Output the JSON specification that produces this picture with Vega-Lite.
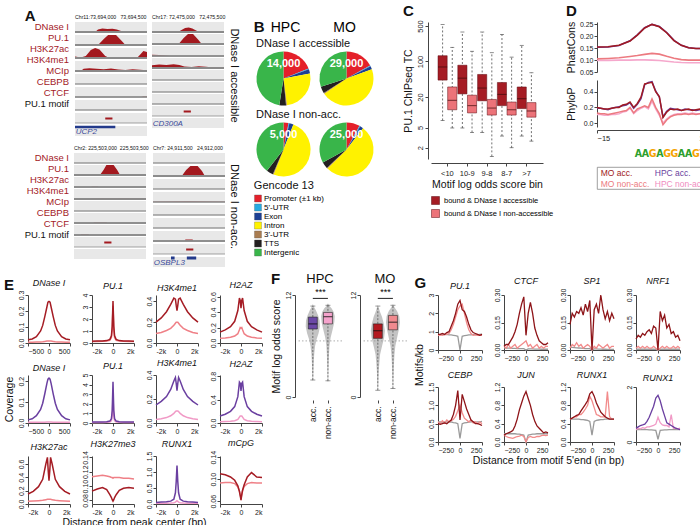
{
"$schema": "https://vega.github.io/schema/vega-lite/v6.json",
"background": "white",
"padding": {"left": 4, "right": 2, "top": 3, "bottom": 2},
"config": {
 "font": "Liberation Sans",
 "view": {"stroke": null},
 "axis": {"grid": false, "labelFontSize": 7, "titleFontSize": 9.5, "titleFontWeight": "normal", "tickSize": 3, "labelPadding": 1, "titlePadding": 3, "domainColor": "#444", "tickColor": "#444", "labelColor": "#222", "titleColor": "#111"},
 "axisY": {"labelAngle": -90, "labelAlign": "center", "labelBaseline": "bottom"},
 "title": {"fontWeight": "normal", "fontSize": 9, "offset": 2, "color": "#111"}
},
"datasets": {
 "aAcc": [
  {"l":"Chr11","t":"DNase I","k":"lab"},{"l":"Chr11","t":"PU.1","k":"lab"},{"l":"Chr11","t":"H3K27ac","k":"lab"},{"l":"Chr11","t":"H3K4me1","k":"lab"},{"l":"Chr11","t":"MCIp","k":"lab"},{"l":"Chr11","t":"CEBPB","k":"lab"},{"l":"Chr11","t":"CTCF","k":"lab"},{"l":"Chr11","t":"PU.1 motif","k":"lab"},{"l":"Chr11","t":"gene","k":"lab"},
  {"l":"Chr11","t":"DNase I","k":"s","x":0,"y":0},{"l":"Chr11","t":"DNase I","k":"s","x":28,"y":0},{"l":"Chr11","t":"DNase I","k":"s","x":32,"y":0.25},{"l":"Chr11","t":"DNase I","k":"s","x":38,"y":0.35},{"l":"Chr11","t":"DNase I","k":"s","x":45,"y":0.3},{"l":"Chr11","t":"DNase I","k":"s","x":52,"y":0.33},{"l":"Chr11","t":"DNase I","k":"s","x":58,"y":0.25},{"l":"Chr11","t":"DNase I","k":"s","x":65,"y":0.08},{"l":"Chr11","t":"DNase I","k":"s","x":70,"y":0},{"l":"Chr11","t":"DNase I","k":"s","x":100,"y":0},
  {"l":"Chr11","t":"PU.1","k":"s","x":0,"y":0},{"l":"Chr11","t":"PU.1","k":"s","x":32,"y":0},{"l":"Chr11","t":"PU.1","k":"s","x":40,"y":0.6},{"l":"Chr11","t":"PU.1","k":"s","x":46,"y":1},{"l":"Chr11","t":"PU.1","k":"s","x":57,"y":1},{"l":"Chr11","t":"PU.1","k":"s","x":65,"y":0.4},{"l":"Chr11","t":"PU.1","k":"s","x":70,"y":0},{"l":"Chr11","t":"PU.1","k":"s","x":100,"y":0},
  {"l":"Chr11","t":"H3K27ac","k":"s","x":0,"y":0.15},{"l":"Chr11","t":"H3K27ac","k":"s","x":8,"y":0.05},{"l":"Chr11","t":"H3K27ac","k":"s","x":15,"y":0.2},{"l":"Chr11","t":"H3K27ac","k":"s","x":22,"y":0.8},{"l":"Chr11","t":"H3K27ac","k":"s","x":28,"y":1},{"l":"Chr11","t":"H3K27ac","k":"s","x":34,"y":0.85},{"l":"Chr11","t":"H3K27ac","k":"s","x":42,"y":0.2},{"l":"Chr11","t":"H3K27ac","k":"s","x":48,"y":0},{"l":"Chr11","t":"H3K27ac","k":"s","x":86,"y":0},{"l":"Chr11","t":"H3K27ac","k":"s","x":90,"y":0.3},{"l":"Chr11","t":"H3K27ac","k":"s","x":95,"y":0.7},{"l":"Chr11","t":"H3K27ac","k":"s","x":100,"y":0.6},
  {"l":"Chr11","t":"H3K4me1","k":"s","x":0,"y":0},{"l":"Chr11","t":"H3K4me1","k":"s","x":8,"y":0},{"l":"Chr11","t":"H3K4me1","k":"s","x":12,"y":0.22},{"l":"Chr11","t":"H3K4me1","k":"s","x":20,"y":0.28},{"l":"Chr11","t":"H3K4me1","k":"s","x":30,"y":0.22},{"l":"Chr11","t":"H3K4me1","k":"s","x":40,"y":0.18},{"l":"Chr11","t":"H3K4me1","k":"s","x":50,"y":0.24},{"l":"Chr11","t":"H3K4me1","k":"s","x":60,"y":0.15},{"l":"Chr11","t":"H3K4me1","k":"s","x":70,"y":0.1},{"l":"Chr11","t":"H3K4me1","k":"s","x":80,"y":0.18},{"l":"Chr11","t":"H3K4me1","k":"s","x":90,"y":0.12},{"l":"Chr11","t":"H3K4me1","k":"s","x":100,"y":0.08},
  {"l":"Chr11","t":"MCIp","k":"s","x":0,"y":0},{"l":"Chr11","t":"MCIp","k":"s","x":100,"y":0},
  {"l":"Chr11","t":"CEBPB","k":"s","x":0,"y":0},{"l":"Chr11","t":"CEBPB","k":"s","x":92,"y":0},{"l":"Chr11","t":"CEBPB","k":"s","x":95,"y":0.06},{"l":"Chr11","t":"CEBPB","k":"s","x":100,"y":0.06},
  {"l":"Chr11","t":"CTCF","k":"s","x":0,"y":0},{"l":"Chr11","t":"CTCF","k":"s","x":100,"y":0},
  {"l":"Chr11","t":"PU.1 motif","k":"m","x":42,"x2":52},
  {"l":"Chr11","t":"gene","k":"g","x":0,"x2":56},{"l":"Chr11","t":"gene","k":"t","x":1,"n":"UCP2"},
  {"l":"Chr17","t":"DNase I","k":"s","x":0,"y":0},{"l":"Chr17","t":"DNase I","k":"s","x":36,"y":0},{"l":"Chr17","t":"DNase I","k":"s","x":41,"y":0.2},{"l":"Chr17","t":"DNase I","k":"s","x":46,"y":0.4},{"l":"Chr17","t":"DNase I","k":"s","x":51,"y":0.45},{"l":"Chr17","t":"DNase I","k":"s","x":56,"y":0.35},{"l":"Chr17","t":"DNase I","k":"s","x":62,"y":0.12},{"l":"Chr17","t":"DNase I","k":"s","x":66,"y":0},{"l":"Chr17","t":"DNase I","k":"s","x":100,"y":0},
  {"l":"Chr17","t":"PU.1","k":"s","x":0,"y":0},{"l":"Chr17","t":"PU.1","k":"s","x":37,"y":0},{"l":"Chr17","t":"PU.1","k":"s","x":44,"y":0.6},{"l":"Chr17","t":"PU.1","k":"s","x":50,"y":1},{"l":"Chr17","t":"PU.1","k":"s","x":57,"y":1},{"l":"Chr17","t":"PU.1","k":"s","x":64,"y":0.45},{"l":"Chr17","t":"PU.1","k":"s","x":69,"y":0},{"l":"Chr17","t":"PU.1","k":"s","x":100,"y":0},
  {"l":"Chr17","t":"H3K27ac","k":"s","x":0,"y":0.12},{"l":"Chr17","t":"H3K27ac","k":"s","x":10,"y":0.1},{"l":"Chr17","t":"H3K27ac","k":"s","x":18,"y":0.04},{"l":"Chr17","t":"H3K27ac","k":"s","x":24,"y":0},{"l":"Chr17","t":"H3K27ac","k":"s","x":100,"y":0},
  {"l":"Chr17","t":"H3K4me1","k":"s","x":0,"y":0.28},{"l":"Chr17","t":"H3K4me1","k":"s","x":10,"y":0.35},{"l":"Chr17","t":"H3K4me1","k":"s","x":20,"y":0.3},{"l":"Chr17","t":"H3K4me1","k":"s","x":30,"y":0.38},{"l":"Chr17","t":"H3K4me1","k":"s","x":38,"y":0.3},{"l":"Chr17","t":"H3K4me1","k":"s","x":45,"y":0.15},{"l":"Chr17","t":"H3K4me1","k":"s","x":55,"y":0.1},{"l":"Chr17","t":"H3K4me1","k":"s","x":65,"y":0.18},{"l":"Chr17","t":"H3K4me1","k":"s","x":75,"y":0.12},{"l":"Chr17","t":"H3K4me1","k":"s","x":85,"y":0.05},{"l":"Chr17","t":"H3K4me1","k":"s","x":100,"y":0.08},
  {"l":"Chr17","t":"MCIp","k":"s","x":0,"y":0},{"l":"Chr17","t":"MCIp","k":"s","x":100,"y":0},
  {"l":"Chr17","t":"CEBPB","k":"s","x":0,"y":0},{"l":"Chr17","t":"CEBPB","k":"s","x":100,"y":0},
  {"l":"Chr17","t":"CTCF","k":"s","x":0,"y":0},{"l":"Chr17","t":"CTCF","k":"s","x":100,"y":0},
  {"l":"Chr17","t":"PU.1 motif","k":"m","x":44,"x2":54},
  {"l":"Chr17","t":"gene","k":"t","x":1,"n":"CD300A"}
 ],
 "aNon": [
  {"l":"Chr2","t":"DNase I","k":"lab"},{"l":"Chr2","t":"PU.1","k":"lab"},{"l":"Chr2","t":"H3K27ac","k":"lab"},{"l":"Chr2","t":"H3K4me1","k":"lab"},{"l":"Chr2","t":"MCIp","k":"lab"},{"l":"Chr2","t":"CEBPB","k":"lab"},{"l":"Chr2","t":"CTCF","k":"lab"},{"l":"Chr2","t":"PU.1 motif","k":"lab"},{"l":"Chr2","t":"gene","k":"lab"},
  {"l":"Chr2","t":"DNase I","k":"s","x":0,"y":0},{"l":"Chr2","t":"DNase I","k":"s","x":100,"y":0},
  {"l":"Chr2","t":"PU.1","k":"s","x":0,"y":0},{"l":"Chr2","t":"PU.1","k":"s","x":36,"y":0},{"l":"Chr2","t":"PU.1","k":"s","x":41,"y":0.5},{"l":"Chr2","t":"PU.1","k":"s","x":45,"y":1},{"l":"Chr2","t":"PU.1","k":"s","x":55,"y":1},{"l":"Chr2","t":"PU.1","k":"s","x":60,"y":0.5},{"l":"Chr2","t":"PU.1","k":"s","x":64,"y":0},{"l":"Chr2","t":"PU.1","k":"s","x":100,"y":0},
  {"l":"Chr2","t":"H3K27ac","k":"s","x":0,"y":0},{"l":"Chr2","t":"H3K27ac","k":"s","x":24,"y":0},{"l":"Chr2","t":"H3K27ac","k":"s","x":25,"y":0.06},{"l":"Chr2","t":"H3K27ac","k":"s","x":33,"y":0.06},{"l":"Chr2","t":"H3K27ac","k":"s","x":34,"y":0},{"l":"Chr2","t":"H3K27ac","k":"s","x":100,"y":0},
  {"l":"Chr2","t":"H3K4me1","k":"s","x":0,"y":0.03},{"l":"Chr2","t":"H3K4me1","k":"s","x":30,"y":0.05},{"l":"Chr2","t":"H3K4me1","k":"s","x":40,"y":0.09},{"l":"Chr2","t":"H3K4me1","k":"s","x":50,"y":0.06},{"l":"Chr2","t":"H3K4me1","k":"s","x":65,"y":0.11},{"l":"Chr2","t":"H3K4me1","k":"s","x":75,"y":0.11},{"l":"Chr2","t":"H3K4me1","k":"s","x":80,"y":0.04},{"l":"Chr2","t":"H3K4me1","k":"s","x":100,"y":0.04},
  {"l":"Chr2","t":"MCIp","k":"s","x":0,"y":0},{"l":"Chr2","t":"MCIp","k":"s","x":100,"y":0},
  {"l":"Chr2","t":"CEBPB","k":"s","x":0,"y":0},{"l":"Chr2","t":"CEBPB","k":"s","x":27,"y":0},{"l":"Chr2","t":"CEBPB","k":"s","x":28,"y":0.07},{"l":"Chr2","t":"CEBPB","k":"s","x":45,"y":0.07},{"l":"Chr2","t":"CEBPB","k":"s","x":46,"y":0},{"l":"Chr2","t":"CEBPB","k":"s","x":100,"y":0},
  {"l":"Chr2","t":"CTCF","k":"s","x":0,"y":0},{"l":"Chr2","t":"CTCF","k":"s","x":9,"y":0},{"l":"Chr2","t":"CTCF","k":"s","x":10,"y":0.1},{"l":"Chr2","t":"CTCF","k":"s","x":20,"y":0.1},{"l":"Chr2","t":"CTCF","k":"s","x":21,"y":0},{"l":"Chr2","t":"CTCF","k":"s","x":100,"y":0},
  {"l":"Chr2","t":"PU.1 motif","k":"m","x":42,"x2":52},
  {"l":"Chr2","t":"gene","k":"t","x":1,"n":""},
  {"l":"Chr7","t":"DNase I","k":"s","x":0,"y":0},{"l":"Chr7","t":"DNase I","k":"s","x":100,"y":0},
  {"l":"Chr7","t":"PU.1","k":"s","x":0,"y":0},{"l":"Chr7","t":"PU.1","k":"s","x":40,"y":0},{"l":"Chr7","t":"PU.1","k":"s","x":46,"y":0.6},{"l":"Chr7","t":"PU.1","k":"s","x":52,"y":1},{"l":"Chr7","t":"PU.1","k":"s","x":62,"y":1},{"l":"Chr7","t":"PU.1","k":"s","x":68,"y":0.5},{"l":"Chr7","t":"PU.1","k":"s","x":72,"y":0},{"l":"Chr7","t":"PU.1","k":"s","x":100,"y":0},
  {"l":"Chr7","t":"H3K27ac","k":"s","x":0,"y":0},{"l":"Chr7","t":"H3K27ac","k":"s","x":100,"y":0},
  {"l":"Chr7","t":"H3K4me1","k":"s","x":0,"y":0.03},{"l":"Chr7","t":"H3K4me1","k":"s","x":50,"y":0.05},{"l":"Chr7","t":"H3K4me1","k":"s","x":100,"y":0.03},
  {"l":"Chr7","t":"MCIp","k":"s","x":0,"y":0},{"l":"Chr7","t":"MCIp","k":"s","x":100,"y":0},
  {"l":"Chr7","t":"CEBPB","k":"s","x":0,"y":0},{"l":"Chr7","t":"CEBPB","k":"s","x":100,"y":0},
  {"l":"Chr7","t":"CTCF","k":"s","x":0,"y":0},{"l":"Chr7","t":"CTCF","k":"s","x":44,"y":0},{"l":"Chr7","t":"CTCF","k":"s","x":45,"y":0.14},{"l":"Chr7","t":"CTCF","k":"s","x":55,"y":0.14},{"l":"Chr7","t":"CTCF","k":"s","x":56,"y":0},{"l":"Chr7","t":"CTCF","k":"s","x":100,"y":0},
  {"l":"Chr7","t":"PU.1 motif","k":"m","x":46,"x2":56},
  {"l":"Chr7","t":"gene","k":"g","x":25,"x2":30},{"l":"Chr7","t":"gene","k":"g","x":47,"x2":60},{"l":"Chr7","t":"gene","k":"t","x":1,"n":"OSBPL3"}
 ],
 "pies": [
  {"pie":"ha","cat":"Promoter (±1 kb)","o":1,"v":19},{"pie":"ha","cat":"5'-UTR","o":2,"v":0.5},{"pie":"ha","cat":"Exon","o":3,"v":2.5},{"pie":"ha","cat":"Intron","o":4,"v":26},{"pie":"ha","cat":"3'-UTR","o":5,"v":0.5},{"pie":"ha","cat":"TTS","o":6,"v":4},{"pie":"ha","cat":"Intergenic","o":7,"v":47.5},
  {"pie":"ma","cat":"Promoter (±1 kb)","o":1,"v":17},{"pie":"ma","cat":"5'-UTR","o":2,"v":0.5},{"pie":"ma","cat":"Exon","o":3,"v":2},{"pie":"ma","cat":"Intron","o":4,"v":46},{"pie":"ma","cat":"3'-UTR","o":5,"v":0.5},{"pie":"ma","cat":"TTS","o":6,"v":4},{"pie":"ma","cat":"Intergenic","o":7,"v":30},
  {"pie":"hn","cat":"Promoter (±1 kb)","o":1,"v":3},{"pie":"hn","cat":"5'-UTR","o":2,"v":0.5},{"pie":"hn","cat":"Exon","o":3,"v":2.5},{"pie":"hn","cat":"Intron","o":4,"v":50},{"pie":"hn","cat":"3'-UTR","o":5,"v":0.5},{"pie":"hn","cat":"TTS","o":6,"v":4},{"pie":"hn","cat":"Intergenic","o":7,"v":39.5},
  {"pie":"mn","cat":"Promoter (±1 kb)","o":1,"v":8},{"pie":"mn","cat":"5'-UTR","o":2,"v":0.5},{"pie":"mn","cat":"Exon","o":3,"v":2},{"pie":"mn","cat":"Intron","o":4,"v":52},{"pie":"mn","cat":"3'-UTR","o":5,"v":0.5},{"pie":"mn","cat":"TTS","o":6,"v":4},{"pie":"mn","cat":"Intergenic","o":7,"v":33}
 ],
 "Dc": [
  {"x":-15,"ma":0.155,"ha":0.154,"mn":0.105,"hn":0.098},{"x":-12,"ma":0.156,"ha":0.155,"mn":0.107,"hn":0.099},{"x":-9,"ma":0.162,"ha":0.161,"mn":0.11,"hn":0.1},{"x":-6,"ma":0.18,"ha":0.181,"mn":0.115,"hn":0.1},{"x":-4,"ma":0.205,"ha":0.206,"mn":0.119,"hn":0.101},{"x":-2,"ma":0.235,"ha":0.236,"mn":0.124,"hn":0.101},{"x":0,"ma":0.25,"ha":0.25,"mn":0.128,"hn":0.1},{"x":2,"ma":0.24,"ha":0.241,"mn":0.125,"hn":0.098},{"x":4,"ma":0.215,"ha":0.216,"mn":0.116,"hn":0.095},{"x":6,"ma":0.182,"ha":0.183,"mn":0.108,"hn":0.092},{"x":8,"ma":0.162,"ha":0.162,"mn":0.102,"hn":0.09},{"x":10,"ma":0.152,"ha":0.152,"mn":0.1,"hn":0.089},{"x":12,"ma":0.149,"ha":0.149,"mn":0.1,"hn":0.089},{"x":15,"ma":0.148,"ha":0.148,"mn":0.1,"hn":0.088}
 ],
 "Dp": [
  {"x":-15,"ma":0.2,"ha":0.19,"mn":0.13,"hn":0.11},{"x":-14,"ma":0.19,"ha":0.19,"mn":0.12,"hn":0.11},{"x":-13,"ma":0.18,"ha":0.18,"mn":0.12,"hn":0.1},{"x":-12,"ma":0.18,"ha":0.17,"mn":0.11,"hn":0.1},{"x":-11,"ma":0.19,"ha":0.19,"mn":0.12,"hn":0.11},{"x":-10,"ma":0.2,"ha":0.2,"mn":0.13,"hn":0.11},{"x":-9,"ma":0.2,"ha":0.21,"mn":0.14,"hn":0.12},{"x":-8,"ma":0.23,"ha":0.22,"mn":0.15,"hn":0.14},{"x":-7,"ma":0.24,"ha":0.23,"mn":0.16,"hn":0.15},{"x":-6,"ma":0.27,"ha":0.26,"mn":0.2,"hn":0.19},{"x":-5,"ma":0.2,"ha":0.19,"mn":0.13,"hn":0.12},{"x":-4,"ma":0.25,"ha":0.24,"mn":0.18,"hn":0.16},{"x":-3,"ma":0.33,"ha":0.31,"mn":0.2,"hn":0.19},{"x":-2,"ma":0.5,"ha":0.49,"mn":0.22,"hn":0.21},{"x":-1,"ma":0.51,"ha":0.52,"mn":0.2,"hn":0.18},{"x":0,"ma":0.52,"ha":0.53,"mn":0.31,"hn":0.28},{"x":1,"ma":0.4,"ha":0.41,"mn":0.2,"hn":0.18},{"x":2,"ma":0.34,"ha":0.33,"mn":0.12,"hn":0.1},{"x":3,"ma":0.07,"ha":0.08,"mn":-0.02,"hn":0.0},{"x":4,"ma":0.14,"ha":0.15,"mn":0.04,"hn":0.05},{"x":5,"ma":0.18,"ha":0.19,"mn":0.08,"hn":0.09},{"x":6,"ma":0.17,"ha":0.18,"mn":0.1,"hn":0.11},{"x":7,"ma":0.18,"ha":0.17,"mn":0.11,"hn":0.12},{"x":8,"ma":0.16,"ha":0.16,"mn":0.11,"hn":0.12},{"x":9,"ma":0.17,"ha":0.18,"mn":0.12,"hn":0.13},{"x":10,"ma":0.18,"ha":0.17,"mn":0.11,"hn":0.12},{"x":11,"ma":0.16,"ha":0.17,"mn":0.12,"hn":0.13},{"x":12,"ma":0.17,"ha":0.16,"mn":0.11,"hn":0.12},{"x":13,"ma":0.18,"ha":0.17,"mn":0.12,"hn":0.12},{"x":14,"ma":0.16,"ha":0.17,"mn":0.12,"hn":0.11},{"x":15,"ma":0.18,"ha":0.18,"mn":0.13,"hn":0.12}
 ],
 "E": [
  {"p":"r1c1","x":-500,"a":0.02,"n":0.005},{"p":"r1c1","x":-400,"a":0.025,"n":0.005},{"p":"r1c1","x":-300,"a":0.04,"n":0.006},{"p":"r1c1","x":-200,"a":0.075,"n":0.007},{"p":"r1c1","x":-150,"a":0.11,"n":0.008},{"p":"r1c1","x":-100,"a":0.165,"n":0.01},{"p":"r1c1","x":-50,"a":0.225,"n":0.012},{"p":"r1c1","x":-25,"a":0.255,"n":0.013},{"p":"r1c1","x":0,"a":0.26,"n":0.013},{"p":"r1c1","x":25,"a":0.255,"n":0.013},{"p":"r1c1","x":50,"a":0.225,"n":0.012},{"p":"r1c1","x":100,"a":0.165,"n":0.01},{"p":"r1c1","x":150,"a":0.11,"n":0.008},{"p":"r1c1","x":200,"a":0.075,"n":0.007},{"p":"r1c1","x":300,"a":0.04,"n":0.006},{"p":"r1c1","x":400,"a":0.025,"n":0.005},{"p":"r1c1","x":500,"a":0.02,"n":0.005},
  {"p":"r1c2","x":-2000,"a":0.15,"n":0.12},{"p":"r1c2","x":-1500,"a":0.16,"n":0.13},{"p":"r1c2","x":-1000,"a":0.17,"n":0.14},{"p":"r1c2","x":-600,"a":0.2,"n":0.16},{"p":"r1c2","x":-300,"a":0.3,"n":0.22},{"p":"r1c2","x":-150,"a":0.6,"n":0.45},{"p":"r1c2","x":-75,"a":1.4,"n":1.1},{"p":"r1c2","x":0,"a":3.5,"n":3.1},{"p":"r1c2","x":75,"a":1.4,"n":1.1},{"p":"r1c2","x":150,"a":0.6,"n":0.45},{"p":"r1c2","x":300,"a":0.3,"n":0.22},{"p":"r1c2","x":600,"a":0.2,"n":0.16},{"p":"r1c2","x":1000,"a":0.17,"n":0.14},{"p":"r1c2","x":1500,"a":0.16,"n":0.13},{"p":"r1c2","x":2000,"a":0.15,"n":0.12},
  {"p":"r1c3","x":-2000,"a":0.2,"n":0.09},{"p":"r1c3","x":-1500,"a":0.24,"n":0.1},{"p":"r1c3","x":-1000,"a":0.3,"n":0.12},{"p":"r1c3","x":-600,"a":0.37,"n":0.14},{"p":"r1c3","x":-300,"a":0.43,"n":0.17},{"p":"r1c3","x":-150,"a":0.42,"n":0.19},{"p":"r1c3","x":-75,"a":0.36,"n":0.2},{"p":"r1c3","x":0,"a":0.31,"n":0.2},{"p":"r1c3","x":75,"a":0.36,"n":0.2},{"p":"r1c3","x":150,"a":0.42,"n":0.19},{"p":"r1c3","x":300,"a":0.43,"n":0.17},{"p":"r1c3","x":600,"a":0.37,"n":0.14},{"p":"r1c3","x":1000,"a":0.3,"n":0.12},{"p":"r1c3","x":1500,"a":0.24,"n":0.1},{"p":"r1c3","x":2000,"a":0.2,"n":0.09},
  {"p":"r1c4","x":-2000,"a":0.14,"n":0.06},{"p":"r1c4","x":-1500,"a":0.17,"n":0.065},{"p":"r1c4","x":-1000,"a":0.21,"n":0.075},{"p":"r1c4","x":-600,"a":0.28,"n":0.09},{"p":"r1c4","x":-300,"a":0.42,"n":0.12},{"p":"r1c4","x":-150,"a":0.58,"n":0.17},{"p":"r1c4","x":-75,"a":0.55,"n":0.2},{"p":"r1c4","x":0,"a":0.45,"n":0.19},{"p":"r1c4","x":75,"a":0.55,"n":0.2},{"p":"r1c4","x":150,"a":0.58,"n":0.17},{"p":"r1c4","x":300,"a":0.42,"n":0.12},{"p":"r1c4","x":600,"a":0.28,"n":0.09},{"p":"r1c4","x":1000,"a":0.21,"n":0.075},{"p":"r1c4","x":1500,"a":0.17,"n":0.065},{"p":"r1c4","x":2000,"a":0.14,"n":0.06},
  {"p":"r2c1","x":-500,"a":0.015,"n":0.003},{"p":"r2c1","x":-400,"a":0.02,"n":0.003},{"p":"r2c1","x":-300,"a":0.035,"n":0.003},{"p":"r2c1","x":-200,"a":0.065,"n":0.004},{"p":"r2c1","x":-150,"a":0.095,"n":0.004},{"p":"r2c1","x":-100,"a":0.14,"n":0.004},{"p":"r2c1","x":-50,"a":0.19,"n":0.005},{"p":"r2c1","x":-25,"a":0.21,"n":0.005},{"p":"r2c1","x":0,"a":0.215,"n":0.005},{"p":"r2c1","x":25,"a":0.21,"n":0.005},{"p":"r2c1","x":50,"a":0.19,"n":0.005},{"p":"r2c1","x":100,"a":0.14,"n":0.004},{"p":"r2c1","x":150,"a":0.095,"n":0.004},{"p":"r2c1","x":200,"a":0.065,"n":0.004},{"p":"r2c1","x":300,"a":0.035,"n":0.003},{"p":"r2c1","x":400,"a":0.02,"n":0.003},{"p":"r2c1","x":500,"a":0.015,"n":0.003},
  {"p":"r2c2","x":-2000,"a":0.1,"n":0.05},{"p":"r2c2","x":-1500,"a":0.1,"n":0.05},{"p":"r2c2","x":-1000,"a":0.11,"n":0.06},{"p":"r2c2","x":-600,"a":0.13,"n":0.07},{"p":"r2c2","x":-300,"a":0.2,"n":0.1},{"p":"r2c2","x":-150,"a":0.45,"n":0.25},{"p":"r2c2","x":-75,"a":1.3,"n":0.8},{"p":"r2c2","x":0,"a":4.3,"n":2.7},{"p":"r2c2","x":75,"a":1.3,"n":0.8},{"p":"r2c2","x":150,"a":0.45,"n":0.25},{"p":"r2c2","x":300,"a":0.2,"n":0.1},{"p":"r2c2","x":600,"a":0.13,"n":0.07},{"p":"r2c2","x":1000,"a":0.11,"n":0.06},{"p":"r2c2","x":1500,"a":0.1,"n":0.05},{"p":"r2c2","x":2000,"a":0.1,"n":0.05},
  {"p":"r2c3","x":-2000,"a":0.15,"n":0.03},{"p":"r2c3","x":-1500,"a":0.18,"n":0.035},{"p":"r2c3","x":-1000,"a":0.22,"n":0.045},{"p":"r2c3","x":-600,"a":0.28,"n":0.06},{"p":"r2c3","x":-300,"a":0.35,"n":0.08},{"p":"r2c3","x":-150,"a":0.38,"n":0.095},{"p":"r2c3","x":-75,"a":0.33,"n":0.1},{"p":"r2c3","x":0,"a":0.27,"n":0.1},{"p":"r2c3","x":75,"a":0.33,"n":0.1},{"p":"r2c3","x":150,"a":0.38,"n":0.095},{"p":"r2c3","x":300,"a":0.35,"n":0.08},{"p":"r2c3","x":600,"a":0.28,"n":0.06},{"p":"r2c3","x":1000,"a":0.22,"n":0.045},{"p":"r2c3","x":1500,"a":0.18,"n":0.035},{"p":"r2c3","x":2000,"a":0.15,"n":0.03},
  {"p":"r2c4","x":-2000,"a":0.12,"n":0.02},{"p":"r2c4","x":-1500,"a":0.15,"n":0.025},{"p":"r2c4","x":-1000,"a":0.2,"n":0.03},{"p":"r2c4","x":-600,"a":0.28,"n":0.04},{"p":"r2c4","x":-300,"a":0.45,"n":0.06},{"p":"r2c4","x":-150,"a":0.7,"n":0.1},{"p":"r2c4","x":-75,"a":0.68,"n":0.12},{"p":"r2c4","x":0,"a":0.55,"n":0.12},{"p":"r2c4","x":75,"a":0.68,"n":0.12},{"p":"r2c4","x":150,"a":0.7,"n":0.1},{"p":"r2c4","x":300,"a":0.45,"n":0.06},{"p":"r2c4","x":600,"a":0.28,"n":0.04},{"p":"r2c4","x":1000,"a":0.2,"n":0.03},{"p":"r2c4","x":1500,"a":0.15,"n":0.025},{"p":"r2c4","x":2000,"a":0.12,"n":0.02},
  {"p":"r3c1","x":-2000,"a":0.15,"n":0.04},{"p":"r3c1","x":-1500,"a":0.19,"n":0.045},{"p":"r3c1","x":-1000,"a":0.26,"n":0.05},{"p":"r3c1","x":-600,"a":0.37,"n":0.055},{"p":"r3c1","x":-300,"a":0.6,"n":0.065},{"p":"r3c1","x":-150,"a":0.7,"n":0.07},{"p":"r3c1","x":-75,"a":0.5,"n":0.07},{"p":"r3c1","x":0,"a":0.35,"n":0.07},{"p":"r3c1","x":75,"a":0.5,"n":0.07},{"p":"r3c1","x":150,"a":0.7,"n":0.07},{"p":"r3c1","x":300,"a":0.6,"n":0.065},{"p":"r3c1","x":600,"a":0.37,"n":0.055},{"p":"r3c1","x":1000,"a":0.26,"n":0.05},{"p":"r3c1","x":1500,"a":0.19,"n":0.045},{"p":"r3c1","x":2000,"a":0.15,"n":0.04},
  {"p":"r3c2","x":-2000,"a":0.093,"n":0.113},{"p":"r3c2","x":-1500,"a":0.096,"n":0.114},{"p":"r3c2","x":-1000,"a":0.098,"n":0.115},{"p":"r3c2","x":-600,"a":0.095,"n":0.114},{"p":"r3c2","x":-300,"a":0.088,"n":0.113},{"p":"r3c2","x":-150,"a":0.084,"n":0.112},{"p":"r3c2","x":-75,"a":0.081,"n":0.112},{"p":"r3c2","x":0,"a":0.079,"n":0.111},{"p":"r3c2","x":75,"a":0.081,"n":0.112},{"p":"r3c2","x":150,"a":0.084,"n":0.112},{"p":"r3c2","x":300,"a":0.088,"n":0.112},{"p":"r3c2","x":600,"a":0.094,"n":0.112},{"p":"r3c2","x":1000,"a":0.097,"n":0.111},{"p":"r3c2","x":1500,"a":0.098,"n":0.111},{"p":"r3c2","x":2000,"a":0.097,"n":0.11},
  {"p":"r3c3","x":-2000,"a":0.05,"n":0.02},{"p":"r3c3","x":-1500,"a":0.06,"n":0.02},{"p":"r3c3","x":-1000,"a":0.07,"n":0.025},{"p":"r3c3","x":-600,"a":0.09,"n":0.03},{"p":"r3c3","x":-300,"a":0.15,"n":0.04},{"p":"r3c3","x":-150,"a":0.35,"n":0.06},{"p":"r3c3","x":-75,"a":0.7,"n":0.08},{"p":"r3c3","x":0,"a":1.2,"n":0.1},{"p":"r3c3","x":75,"a":0.7,"n":0.08},{"p":"r3c3","x":150,"a":0.35,"n":0.06},{"p":"r3c3","x":300,"a":0.15,"n":0.04},{"p":"r3c3","x":600,"a":0.09,"n":0.03},{"p":"r3c3","x":1000,"a":0.07,"n":0.025},{"p":"r3c3","x":1500,"a":0.06,"n":0.02},{"p":"r3c3","x":2000,"a":0.05,"n":0.02},
  {"p":"r3c4","x":-2000,"a":0.11,"n":0.093},{"p":"r3c4","x":-1500,"a":0.108,"n":0.094},{"p":"r3c4","x":-1000,"a":0.104,"n":0.094},{"p":"r3c4","x":-600,"a":0.098,"n":0.092},{"p":"r3c4","x":-300,"a":0.088,"n":0.086},{"p":"r3c4","x":-150,"a":0.078,"n":0.078},{"p":"r3c4","x":-75,"a":0.07,"n":0.071},{"p":"r3c4","x":0,"a":0.062,"n":0.066},{"p":"r3c4","x":75,"a":0.072,"n":0.072},{"p":"r3c4","x":150,"a":0.08,"n":0.079},{"p":"r3c4","x":300,"a":0.09,"n":0.087},{"p":"r3c4","x":600,"a":0.104,"n":0.092},{"p":"r3c4","x":1000,"a":0.112,"n":0.094},{"p":"r3c4","x":1500,"a":0.104,"n":0.093},{"p":"r3c4","x":2000,"a":0.103,"n":0.093}
 ],
 "Fv": [
  {"c":"HPCa","v":1.9,"lo":0.98,"hi":1.02},{"c":"HPCa","v":3,"lo":0.96,"hi":1.04},{"c":"HPCa","v":4,"lo":0.94,"hi":1.06},{"c":"HPCa","v":5,"lo":0.91,"hi":1.09},{"c":"HPCa","v":6,"lo":0.85,"hi":1.15},{"c":"HPCa","v":6.8,"lo":0.75,"hi":1.25},{"c":"HPCa","v":7.5,"lo":0.62,"hi":1.38},{"c":"HPCa","v":8.3,"lo":0.53,"hi":1.47},{"c":"HPCa","v":9,"lo":0.55,"hi":1.45},{"c":"HPCa","v":9.6,"lo":0.65,"hi":1.35},{"c":"HPCa","v":10.2,"lo":0.8,"hi":1.2},{"c":"HPCa","v":10.6,"lo":0.92,"hi":1.08},{"c":"HPCa","v":10.9,"lo":0.99,"hi":1.01},
  {"c":"HPCn","v":1.8,"lo":1.98,"hi":2.02},{"c":"HPCn","v":3,"lo":1.97,"hi":2.03},{"c":"HPCn","v":4,"lo":1.95,"hi":2.05},{"c":"HPCn","v":5,"lo":1.93,"hi":2.07},{"c":"HPCn","v":6,"lo":1.9,"hi":2.1},{"c":"HPCn","v":7,"lo":1.82,"hi":2.18},{"c":"HPCn","v":8,"lo":1.68,"hi":2.32},{"c":"HPCn","v":8.8,"lo":1.58,"hi":2.42},{"c":"HPCn","v":9.5,"lo":1.55,"hi":2.45},{"c":"HPCn","v":10,"lo":1.62,"hi":2.38},{"c":"HPCn","v":10.4,"lo":1.75,"hi":2.25},{"c":"HPCn","v":10.7,"lo":1.9,"hi":2.1},{"c":"HPCn","v":11,"lo":1.99,"hi":2.01},
  {"c":"MOa","v":0.8,"lo":0.98,"hi":1.02},{"c":"MOa","v":2,"lo":0.96,"hi":1.04},{"c":"MOa","v":3,"lo":0.94,"hi":1.06},{"c":"MOa","v":4,"lo":0.9,"hi":1.1},{"c":"MOa","v":5,"lo":0.85,"hi":1.15},{"c":"MOa","v":6,"lo":0.72,"hi":1.28},{"c":"MOa","v":7,"lo":0.58,"hi":1.42},{"c":"MOa","v":7.8,"lo":0.53,"hi":1.47},{"c":"MOa","v":8.6,"lo":0.6,"hi":1.4},{"c":"MOa","v":9.4,"lo":0.72,"hi":1.28},{"c":"MOa","v":10,"lo":0.85,"hi":1.15},{"c":"MOa","v":10.5,"lo":0.94,"hi":1.06},{"c":"MOa","v":10.8,"lo":0.99,"hi":1.01},
  {"c":"MOn","v":1,"lo":1.98,"hi":2.02},{"c":"MOn","v":2,"lo":1.97,"hi":2.03},{"c":"MOn","v":3,"lo":1.95,"hi":2.05},{"c":"MOn","v":4,"lo":1.93,"hi":2.07},{"c":"MOn","v":5,"lo":1.9,"hi":2.1},{"c":"MOn","v":6,"lo":1.84,"hi":2.16},{"c":"MOn","v":7,"lo":1.72,"hi":2.28},{"c":"MOn","v":8,"lo":1.6,"hi":2.4},{"c":"MOn","v":8.8,"lo":1.54,"hi":2.46},{"c":"MOn","v":9.5,"lo":1.58,"hi":2.42},{"c":"MOn","v":10.1,"lo":1.72,"hi":2.28},{"c":"MOn","v":10.5,"lo":1.88,"hi":2.12},{"c":"MOn","v":10.9,"lo":1.99,"hi":2.01}
 ],
 "Fs": [
  {"c":"HPCa","p":1,"lo":2.0,"q1":8.0,"med":8.6,"q3":9.4,"hi":10.7},
  {"c":"HPCn","p":2,"lo":1.9,"q1":8.6,"med":9.45,"q3":9.95,"hi":10.8},
  {"c":"MOa","p":1,"lo":0.8,"q1":6.9,"med":7.8,"q3":8.6,"hi":10.7},
  {"c":"MOn","p":2,"lo":1.0,"q1":7.9,"med":8.8,"q3":9.6,"hi":10.8}
 ],
 "G": [
  {"p":"pu","x":-250,"a":0.85,"n":0.8,"g":0.85},{"p":"pu","x":-225,"a":0.85,"n":0.82,"g":0.83},{"p":"pu","x":-200,"a":0.9,"n":0.8,"g":0.85},{"p":"pu","x":-175,"a":0.85,"n":0.85,"g":0.84},{"p":"pu","x":-150,"a":0.95,"n":0.85,"g":0.85},{"p":"pu","x":-125,"a":1.0,"n":0.9,"g":0.83},{"p":"pu","x":-100,"a":1.3,"n":1.1,"g":0.82},{"p":"pu","x":-75,"a":1.6,"n":1.4,"g":0.8},{"p":"pu","x":-50,"a":2.0,"n":1.8,"g":0.78},{"p":"pu","x":-25,"a":2.5,"n":2.2,"g":0.75},{"p":"pu","x":0,"a":2.7,"n":2.4,"g":0.0},{"p":"pu","x":25,"a":2.2,"n":2.5,"g":0.75},{"p":"pu","x":50,"a":2.1,"n":2.0,"g":0.78},{"p":"pu","x":75,"a":1.8,"n":1.5,"g":0.8},{"p":"pu","x":100,"a":1.4,"n":1.1,"g":0.82},{"p":"pu","x":125,"a":1.1,"n":0.9,"g":0.83},{"p":"pu","x":150,"a":0.95,"n":0.8,"g":0.84},{"p":"pu","x":175,"a":0.9,"n":0.82,"g":0.85},{"p":"pu","x":200,"a":0.85,"n":0.8,"g":0.84},{"p":"pu","x":225,"a":0.8,"n":0.8,"g":0.85},{"p":"pu","x":250,"a":0.85,"n":0.8,"g":0.86},
  {"p":"ct","x":-250,"a":0.02,"n":0.02,"g":0.012},{"p":"ct","x":-225,"a":0.03,"n":0.01,"g":0.011},{"p":"ct","x":-200,"a":0.03,"n":0.03,"g":0.01},{"p":"ct","x":-175,"a":0.05,"n":0.01,"g":0.01},{"p":"ct","x":-150,"a":0.07,"n":0.02,"g":0.009},{"p":"ct","x":-125,"a":0.1,"n":0.03,"g":0.009},{"p":"ct","x":-100,"a":0.14,"n":0.01,"g":0.008},{"p":"ct","x":-75,"a":0.2,"n":0.02,"g":0.008},{"p":"ct","x":-50,"a":0.25,"n":0.03,"g":0.007},{"p":"ct","x":-25,"a":0.29,"n":0.04,"g":0.007},{"p":"ct","x":0,"a":0.08,"n":0.05,"g":0.0},{"p":"ct","x":25,"a":0.2,"n":0.02,"g":0.006},{"p":"ct","x":50,"a":0.26,"n":0.03,"g":0.006},{"p":"ct","x":75,"a":0.2,"n":0.01,"g":0.006},{"p":"ct","x":100,"a":0.12,"n":0.02,"g":0.005},{"p":"ct","x":125,"a":0.08,"n":0.03,"g":0.005},{"p":"ct","x":150,"a":0.05,"n":0.01,"g":0.005},{"p":"ct","x":175,"a":0.04,"n":0.02,"g":0.004},{"p":"ct","x":200,"a":0.03,"n":0.01,"g":0.004},{"p":"ct","x":225,"a":0.03,"n":0.02,"g":0.004},{"p":"ct","x":250,"a":0.04,"n":0.02,"g":0.004},
  {"p":"sp","x":-250,"a":0.14,"n":0.01,"g":0.015},{"p":"sp","x":-225,"a":0.2,"n":0.03,"g":0.014},{"p":"sp","x":-200,"a":0.18,"n":0.02,"g":0.013},{"p":"sp","x":-175,"a":0.21,"n":0.04,"g":0.012},{"p":"sp","x":-150,"a":0.2,"n":0.02,"g":0.011},{"p":"sp","x":-125,"a":0.23,"n":0.03,"g":0.01},{"p":"sp","x":-100,"a":0.19,"n":0.01,"g":0.009},{"p":"sp","x":-75,"a":0.25,"n":0.02,"g":0.008},{"p":"sp","x":-50,"a":0.21,"n":0.03,"g":0.008},{"p":"sp","x":-25,"a":0.27,"n":0.02,"g":0.007},{"p":"sp","x":0,"a":0.0,"n":0.0,"g":0.0},{"p":"sp","x":25,"a":0.22,"n":0.02,"g":0.006},{"p":"sp","x":50,"a":0.25,"n":0.01,"g":0.006},{"p":"sp","x":75,"a":0.2,"n":0.03,"g":0.005},{"p":"sp","x":100,"a":0.3,"n":0.02,"g":0.005},{"p":"sp","x":125,"a":0.22,"n":0.01,"g":0.004},{"p":"sp","x":150,"a":0.17,"n":0.02,"g":0.004},{"p":"sp","x":175,"a":0.21,"n":0.03,"g":0.003},{"p":"sp","x":200,"a":0.16,"n":0.01,"g":0.003},{"p":"sp","x":225,"a":0.2,"n":0.02,"g":0.003},{"p":"sp","x":250,"a":0.17,"n":0.02,"g":0.003},
  {"p":"nr","x":-250,"a":0.06,"n":0.01,"g":0.004},{"p":"nr","x":-225,"a":0.08,"n":0.02,"g":0.004},{"p":"nr","x":-200,"a":0.07,"n":0.01,"g":0.004},{"p":"nr","x":-175,"a":0.09,"n":0.02,"g":0.004},{"p":"nr","x":-150,"a":0.08,"n":0.01,"g":0.004},{"p":"nr","x":-125,"a":0.1,"n":0.02,"g":0.004},{"p":"nr","x":-100,"a":0.11,"n":0.01,"g":0.004},{"p":"nr","x":-75,"a":0.09,"n":0.01,"g":0.004},{"p":"nr","x":-50,"a":0.13,"n":0.02,"g":0.004},{"p":"nr","x":-25,"a":0.12,"n":0.01,"g":0.003},{"p":"nr","x":0,"a":0.0,"n":0.0,"g":0.0},{"p":"nr","x":25,"a":0.21,"n":0.01,"g":0.003},{"p":"nr","x":50,"a":0.16,"n":0.02,"g":0.004},{"p":"nr","x":75,"a":0.19,"n":0.01,"g":0.004},{"p":"nr","x":100,"a":0.12,"n":0.02,"g":0.004},{"p":"nr","x":125,"a":0.14,"n":0.01,"g":0.004},{"p":"nr","x":150,"a":0.09,"n":0.01,"g":0.004},{"p":"nr","x":175,"a":0.1,"n":0.02,"g":0.004},{"p":"nr","x":200,"a":0.07,"n":0.01,"g":0.004},{"p":"nr","x":225,"a":0.08,"n":0.02,"g":0.004},{"p":"nr","x":250,"a":0.05,"n":0.01,"g":0.004},
  {"p":"ce","x":-250,"a":0.5,"n":0.55,"g":0.55},{"p":"ce","x":-225,"a":0.48,"n":0.5,"g":0.55},{"p":"ce","x":-200,"a":0.5,"n":0.58,"g":0.54},{"p":"ce","x":-175,"a":0.52,"n":0.52,"g":0.55},{"p":"ce","x":-150,"a":0.5,"n":0.6,"g":0.55},{"p":"ce","x":-125,"a":0.55,"n":0.55,"g":0.54},{"p":"ce","x":-100,"a":0.6,"n":0.58,"g":0.55},{"p":"ce","x":-75,"a":0.75,"n":0.62,"g":0.53},{"p":"ce","x":-50,"a":1.0,"n":0.7,"g":0.52},{"p":"ce","x":-25,"a":1.4,"n":0.85,"g":0.5},{"p":"ce","x":0,"a":0.6,"n":1.0,"g":0.1},{"p":"ce","x":25,"a":1.3,"n":0.8,"g":0.5},{"p":"ce","x":50,"a":1.1,"n":0.65,"g":0.52},{"p":"ce","x":75,"a":0.9,"n":0.6,"g":0.53},{"p":"ce","x":100,"a":0.75,"n":0.55,"g":0.54},{"p":"ce","x":125,"a":0.6,"n":0.6,"g":0.55},{"p":"ce","x":150,"a":0.55,"n":0.52,"g":0.55},{"p":"ce","x":175,"a":0.5,"n":0.55,"g":0.54},{"p":"ce","x":200,"a":0.5,"n":0.5,"g":0.55},{"p":"ce","x":225,"a":0.48,"n":0.55,"g":0.55},{"p":"ce","x":250,"a":0.45,"n":0.5,"g":0.56},
  {"p":"ju","x":-250,"a":0.15,"n":0.15,"g":0.18},{"p":"ju","x":-225,"a":0.18,"n":0.12,"g":0.18},{"p":"ju","x":-200,"a":0.2,"n":0.1,"g":0.18},{"p":"ju","x":-175,"a":0.22,"n":0.09,"g":0.18},{"p":"ju","x":-150,"a":0.25,"n":0.08,"g":0.18},{"p":"ju","x":-125,"a":0.35,"n":0.1,"g":0.18},{"p":"ju","x":-100,"a":0.5,"n":0.12,"g":0.17},{"p":"ju","x":-75,"a":0.7,"n":0.13,"g":0.17},{"p":"ju","x":-50,"a":0.85,"n":0.15,"g":0.16},{"p":"ju","x":-25,"a":1.0,"n":0.12,"g":0.15},{"p":"ju","x":0,"a":1.1,"n":0.0,"g":0.0},{"p":"ju","x":25,"a":0.95,"n":0.1,"g":0.15},{"p":"ju","x":50,"a":0.8,"n":0.12,"g":0.16},{"p":"ju","x":75,"a":0.6,"n":0.1,"g":0.17},{"p":"ju","x":100,"a":0.45,"n":0.1,"g":0.17},{"p":"ju","x":125,"a":0.35,"n":0.12,"g":0.18},{"p":"ju","x":150,"a":0.3,"n":0.12,"g":0.18},{"p":"ju","x":175,"a":0.25,"n":0.14,"g":0.18},{"p":"ju","x":200,"a":0.2,"n":0.15,"g":0.18},{"p":"ju","x":225,"a":0.22,"n":0.14,"g":0.18},{"p":"ju","x":250,"a":0.2,"n":0.15,"g":0.18},
  {"p":"rm","x":-250,"a":0.5,"n":0.5,"g":0.5},{"p":"rm","x":-225,"a":0.52,"n":0.52,"g":0.5},{"p":"rm","x":-200,"a":0.55,"n":0.55,"g":0.5},{"p":"rm","x":-175,"a":0.58,"n":0.55,"g":0.5},{"p":"rm","x":-150,"a":0.6,"n":0.6,"g":0.5},{"p":"rm","x":-125,"a":0.68,"n":0.6,"g":0.49},{"p":"rm","x":-100,"a":0.75,"n":0.65,"g":0.49},{"p":"rm","x":-75,"a":0.82,"n":0.72,"g":0.48},{"p":"rm","x":-50,"a":0.9,"n":0.8,"g":0.47},{"p":"rm","x":-25,"a":1.05,"n":1.0,"g":0.45},{"p":"rm","x":0,"a":1.1,"n":0.9,"g":0.15},{"p":"rm","x":25,"a":1.0,"n":0.75,"g":0.45},{"p":"rm","x":50,"a":0.85,"n":0.6,"g":0.47},{"p":"rm","x":75,"a":0.75,"n":0.58,"g":0.48},{"p":"rm","x":100,"a":0.65,"n":0.55,"g":0.49},{"p":"rm","x":125,"a":0.6,"n":0.55,"g":0.49},{"p":"rm","x":150,"a":0.55,"n":0.55,"g":0.5},{"p":"rm","x":175,"a":0.52,"n":1.1,"g":0.5},{"p":"rm","x":200,"a":0.5,"n":0.55,"g":0.5},{"p":"rm","x":225,"a":0.5,"n":0.5,"g":0.5},{"p":"rm","x":250,"a":0.5,"n":0.5,"g":0.5},
  {"p":"rh","x":-250,"a":0.5,"n":0.45,"g":0.45},{"p":"rh","x":-225,"a":0.55,"n":0.5,"g":0.45},{"p":"rh","x":-200,"a":0.6,"n":0.48,"g":0.45},{"p":"rh","x":-175,"a":0.62,"n":0.52,"g":0.45},{"p":"rh","x":-150,"a":0.65,"n":0.5,"g":0.45},{"p":"rh","x":-125,"a":0.75,"n":0.55,"g":0.45},{"p":"rh","x":-100,"a":0.9,"n":0.55,"g":0.44},{"p":"rh","x":-75,"a":1.1,"n":0.58,"g":0.44},{"p":"rh","x":-50,"a":1.3,"n":0.6,"g":0.43},{"p":"rh","x":-25,"a":1.6,"n":0.65,"g":0.42},{"p":"rh","x":0,"a":1.7,"n":0.9,"g":0.1},{"p":"rh","x":25,"a":1.5,"n":0.7,"g":0.42},{"p":"rh","x":50,"a":1.2,"n":0.62,"g":0.43},{"p":"rh","x":75,"a":0.95,"n":0.6,"g":0.44},{"p":"rh","x":100,"a":0.7,"n":0.6,"g":0.44},{"p":"rh","x":125,"a":0.65,"n":0.55,"g":0.45},{"p":"rh","x":150,"a":0.6,"n":1.0,"g":0.45},{"p":"rh","x":175,"a":0.55,"n":0.5,"g":0.45},{"p":"rh","x":200,"a":0.5,"n":0.5,"g":0.45},{"p":"rh","x":225,"a":0.48,"n":0.48,"g":0.45},{"p":"rh","x":250,"a":0.45,"n":0.5,"g":0.45}
 ]
},
"spacing": 4,
"resolve": {"scale": {"color": "independent"}},
"vconcat": [
 {"spacing": 12, "resolve": {"scale": {"color": "independent"}}, "hconcat": [
  {"title": {"text": "A", "anchor": "start", "frame": "bounds", "fontSize": 15, "fontWeight": "bold", "offset": 1, "dy": 10},
   "spacing": 8,
   "vconcat": [
    {"title": {"text": "DNase I accessible", "orient": "right", "fontSize": 11, "anchor": "middle", "offset": 4},
     "spacing": 3,
     "hconcat": [
      {"data": {"name": "aAcc"}, "transform": [{"filter": "datum.k == 'lab'"}],
       "title": {"text": "\u00a0", "fontSize": 5.2, "anchor": "start", "frame": "group", "offset": 2},
       "facet": {"row": {"field": "t", "type": "nominal", "sort": ["DNase I","PU.1","H3K27ac","H3K4me1","MCIp","CEBPB","CTCF","PU.1 motif","gene"], "header": {"title": null, "labels": false}}},
       "spacing": 1,
       "spec": {"width": 42, "height": 10, "mark": {"type": "text", "align": "right", "baseline": "middle", "fontSize": 9.5, "dx": -1},
        "encoding": {"x": {"datum": 100, "type": "quantitative", "scale": {"domain": [0, 100]}, "axis": null}, "y": {"datum": 0.5, "type": "quantitative", "scale": {"domain": [0, 1]}, "axis": null}, "text": {"field": "t"}, "opacity": {"condition": {"test": "datum.t == 'gene'", "value": 0}, "value": 1}, "color": {"condition": {"test": "datum.t == 'PU.1 motif'", "value": "#111"}, "value": "#a3191f"}}}},
      {"data": {"name": "aAcc"}, "transform": [{"filter": "datum.l == 'Chr11'"}],
       "title": {"text": "Chr11:73,694,000\u00a0\u00a0\u00a073,694,500", "fontSize": 5.2, "frame": "group", "anchor": "start", "offset": 2},
       "facet": {"row": {"field": "t", "type": "nominal", "sort": ["DNase I","PU.1","H3K27ac","H3K4me1","MCIp","CEBPB","CTCF","PU.1 motif","gene"], "header": {"title": null, "labels": false}}},
       "spacing": 1,
       "spec": {"width": 72, "height": 10, "view": {"fill": "#e8e8e8", "stroke": null},
        "layer": [
         {"transform": [{"filter": "datum.k == 's'"}], "mark": {"type": "area", "color": "#a3191f"}, "encoding": {"x": {"field": "x", "type": "quantitative", "scale": {"domain": [0, 100], "nice": false}, "axis": null}, "y": {"field": "y", "type": "quantitative", "scale": {"domain": [0, 1], "nice": false}, "axis": null}}},
         {"transform": [{"filter": "datum.k == 's' || datum.k == 'm'"}], "mark": {"type": "rule", "color": "#8a8a8a", "strokeWidth": 0.8}, "encoding": {"y": {"datum": 0, "axis": null}}},
         {"transform": [{"filter": "datum.k == 'm'"}], "mark": {"type": "rule", "color": "#a3191f", "strokeWidth": 2}, "encoding": {"x": {"field": "x", "type": "quantitative", "axis": null}, "x2": {"field": "x2"}, "y": {"datum": 0.45, "axis": null}}},
         {"transform": [{"filter": "datum.k == 'g'"}], "mark": {"type": "rule", "color": "#233a8b", "strokeWidth": 2.5}, "encoding": {"x": {"field": "x", "type": "quantitative", "axis": null}, "x2": {"field": "x2"}, "y": {"datum": 0.9, "axis": null}}},
         {"transform": [{"filter": "datum.k == 't'"}], "mark": {"type": "text", "color": "#3a4a9a", "fontStyle": "italic", "fontSize": 8, "align": "left", "baseline": "middle"}, "encoding": {"x": {"field": "x", "type": "quantitative", "axis": null}, "y": {"datum": 0.38, "axis": null}, "text": {"field": "n"}}}
        ]}},
      {"data": {"name": "aAcc"}, "transform": [{"filter": "datum.l == 'Chr17'"}],
       "title": {"text": "Chr17:\u00a072,475,000\u00a0\u00a0\u00a072,475,500", "fontSize": 5.2, "frame": "group", "anchor": "start", "offset": 2},
       "facet": {"row": {"field": "t", "type": "nominal", "sort": ["DNase I","PU.1","H3K27ac","H3K4me1","MCIp","CEBPB","CTCF","PU.1 motif","gene"], "header": {"title": null, "labels": false}}},
       "spacing": 1,
       "spec": {"width": 72, "height": 10, "view": {"fill": "#e8e8e8", "stroke": null},
        "layer": [
         {"transform": [{"filter": "datum.k == 's'"}], "mark": {"type": "area", "color": "#a3191f"}, "encoding": {"x": {"field": "x", "type": "quantitative", "scale": {"domain": [0, 100], "nice": false}, "axis": null}, "y": {"field": "y", "type": "quantitative", "scale": {"domain": [0, 1], "nice": false}, "axis": null}}},
         {"transform": [{"filter": "datum.k == 's' || datum.k == 'm'"}], "mark": {"type": "rule", "color": "#8a8a8a", "strokeWidth": 0.8}, "encoding": {"y": {"datum": 0, "axis": null}}},
         {"transform": [{"filter": "datum.k == 'm'"}], "mark": {"type": "rule", "color": "#a3191f", "strokeWidth": 2}, "encoding": {"x": {"field": "x", "type": "quantitative", "axis": null}, "x2": {"field": "x2"}, "y": {"datum": 0.45, "axis": null}}},
         {"transform": [{"filter": "datum.k == 't'"}], "mark": {"type": "text", "color": "#3a4a9a", "fontStyle": "italic", "fontSize": 8, "align": "left", "baseline": "middle"}, "encoding": {"x": {"field": "x", "type": "quantitative", "axis": null}, "y": {"datum": 0.38, "axis": null}, "text": {"field": "n"}}}
        ]}}
     ]},
    {"title": {"text": "DNase I non-acc.", "orient": "right", "fontSize": 11, "anchor": "middle", "offset": 4},
     "spacing": 3,
     "hconcat": [
      {"data": {"name": "aNon"}, "transform": [{"filter": "datum.k == 'lab'"}],
       "title": {"text": "\u00a0", "fontSize": 5.2, "anchor": "start", "frame": "group", "offset": 2},
       "facet": {"row": {"field": "t", "type": "nominal", "sort": ["DNase I","PU.1","H3K27ac","H3K4me1","MCIp","CEBPB","CTCF","PU.1 motif","gene"], "header": {"title": null, "labels": false}}},
       "spacing": 1,
       "spec": {"width": 42, "height": 10, "mark": {"type": "text", "align": "right", "baseline": "middle", "fontSize": 9.5, "dx": -1},
        "encoding": {"x": {"datum": 100, "type": "quantitative", "scale": {"domain": [0, 100]}, "axis": null}, "y": {"datum": 0.5, "type": "quantitative", "scale": {"domain": [0, 1]}, "axis": null}, "text": {"field": "t"}, "opacity": {"condition": {"test": "datum.t == 'gene'", "value": 0}, "value": 1}, "color": {"condition": {"test": "datum.t == 'PU.1 motif'", "value": "#111"}, "value": "#a3191f"}}}},
      {"data": {"name": "aNon"}, "transform": [{"filter": "datum.l == 'Chr2' && datum.k != 'lab'"}],
       "title": {"text": "Chr2:\u00a0225,503,000\u00a0\u00a0225,503,500", "fontSize": 5.2, "frame": "group", "anchor": "start", "offset": 2},
       "facet": {"row": {"field": "t", "type": "nominal", "sort": ["DNase I","PU.1","H3K27ac","H3K4me1","MCIp","CEBPB","CTCF","PU.1 motif","gene"], "header": {"title": null, "labels": false}}},
       "spacing": 1,
       "spec": {"width": 72, "height": 10, "view": {"fill": "#e8e8e8", "stroke": null},
        "layer": [
         {"transform": [{"filter": "datum.k == 's'"}], "mark": {"type": "area", "color": "#a3191f"}, "encoding": {"x": {"field": "x", "type": "quantitative", "scale": {"domain": [0, 100], "nice": false}, "axis": null}, "y": {"field": "y", "type": "quantitative", "scale": {"domain": [0, 1], "nice": false}, "axis": null}}},
         {"transform": [{"filter": "datum.k == 's' || datum.k == 'm'"}], "mark": {"type": "rule", "color": "#8a8a8a", "strokeWidth": 0.8}, "encoding": {"y": {"datum": 0, "axis": null}}},
         {"transform": [{"filter": "datum.k == 'm'"}], "mark": {"type": "rule", "color": "#a3191f", "strokeWidth": 2}, "encoding": {"x": {"field": "x", "type": "quantitative", "axis": null}, "x2": {"field": "x2"}, "y": {"datum": 0.45, "axis": null}}}
        ]}},
      {"data": {"name": "aNon"}, "transform": [{"filter": "datum.l == 'Chr7'"}],
       "title": {"text": "Chr7:\u00a024,911,500\u00a0\u00a0\u00a024,912,000", "fontSize": 5.2, "frame": "group", "anchor": "start", "offset": 2},
       "facet": {"row": {"field": "t", "type": "nominal", "sort": ["DNase I","PU.1","H3K27ac","H3K4me1","MCIp","CEBPB","CTCF","PU.1 motif","gene"], "header": {"title": null, "labels": false}}},
       "spacing": 1,
       "spec": {"width": 72, "height": 10, "view": {"fill": "#e8e8e8", "stroke": null},
        "layer": [
         {"transform": [{"filter": "datum.k == 's'"}], "mark": {"type": "area", "color": "#a3191f"}, "encoding": {"x": {"field": "x", "type": "quantitative", "scale": {"domain": [0, 100], "nice": false}, "axis": null}, "y": {"field": "y", "type": "quantitative", "scale": {"domain": [0, 1], "nice": false}, "axis": null}}},
         {"transform": [{"filter": "datum.k == 's' || datum.k == 'm'"}], "mark": {"type": "rule", "color": "#8a8a8a", "strokeWidth": 0.8}, "encoding": {"y": {"datum": 0, "axis": null}}},
         {"transform": [{"filter": "datum.k == 'm'"}], "mark": {"type": "rule", "color": "#a3191f", "strokeWidth": 2}, "encoding": {"x": {"field": "x", "type": "quantitative", "axis": null}, "x2": {"field": "x2"}, "y": {"datum": 0.45, "axis": null}}},
         {"transform": [{"filter": "datum.k == 'g'"}], "mark": {"type": "rule", "color": "#233a8b", "strokeWidth": 3}, "encoding": {"x": {"field": "x", "type": "quantitative", "axis": null}, "x2": {"field": "x2"}, "y": {"datum": 0.9, "axis": null}}},
         {"transform": [{"filter": "datum.k == 't'"}], "mark": {"type": "text", "color": "#3a4a9a", "fontStyle": "italic", "fontSize": 8, "align": "left", "baseline": "middle"}, "encoding": {"x": {"field": "x", "type": "quantitative", "axis": null}, "y": {"datum": 0.38, "axis": null}, "text": {"field": "n"}}}
        ]}}
     ]}
   ]
  },
  {"title": {"text": "B", "anchor": "start", "frame": "bounds", "fontSize": 15, "fontWeight": "bold", "offset": 1, "dy": 15},
   "spacing": 3,
   "resolve": {"scale": {"color": "independent"}},
   "vconcat": [
    {"width": 118, "height": 12, "data": {"values": [{"t": "HPC", "i": 0}, {"t": "MO", "i": 1}]}, "mark": {"type": "text", "fontSize": 14}, "encoding": {"x": {"field": "i", "type": "quantitative", "scale": {"domain": [-0.5, 1.5]}, "axis": null}, "text": {"field": "t"}}},
    {"title": {"text": "DNase I accessible", "fontSize": 11}, "spacing": 8, "resolve": {"scale": {"color": "independent"}}, "hconcat": [
     {"width": 55, "height": 55, "layer": [
      {"data": {"name": "pies"}, "transform": [{"filter": "datum.pie == 'ha'"}], "mark": {"type": "arc", "outerRadius": 27}, "encoding": {"theta": {"field": "v", "type": "quantitative", "stack": true}, "order": {"field": "o", "type": "quantitative"}, "color": {"field": "cat", "type": "nominal", "scale": {"domain": ["Promoter (±1 kb)","5'-UTR","Exon","Intron","3'-UTR","TTS","Intergenic"], "range": ["#e4202a","#27aae1","#1c3f94","#fff200","#a97c50","#231f20","#39b54a"]}, "legend": null}}},
      {"data": {"values": [{"n": "14,000"}]}, "mark": {"type": "text", "color": "white", "fontWeight": "bold", "fontSize": 11, "dy": -15}, "encoding": {"text": {"field": "n"}}}
     ]},
     {"width": 55, "height": 55, "layer": [
      {"data": {"name": "pies"}, "transform": [{"filter": "datum.pie == 'ma'"}], "mark": {"type": "arc", "outerRadius": 27}, "encoding": {"theta": {"field": "v", "type": "quantitative", "stack": true}, "order": {"field": "o", "type": "quantitative"}, "color": {"field": "cat", "type": "nominal", "scale": {"domain": ["Promoter (±1 kb)","5'-UTR","Exon","Intron","3'-UTR","TTS","Intergenic"], "range": ["#e4202a","#27aae1","#1c3f94","#fff200","#a97c50","#231f20","#39b54a"]}, "legend": null}}},
      {"data": {"values": [{"n": "29,000"}]}, "mark": {"type": "text", "color": "white", "fontWeight": "bold", "fontSize": 11, "dy": -15}, "encoding": {"text": {"field": "n"}}}
     ]}
    ]},
    {"title": {"text": "DNase I non-acc.", "fontSize": 11}, "spacing": 8, "resolve": {"scale": {"color": "independent"}}, "hconcat": [
     {"width": 55, "height": 55, "layer": [
      {"data": {"name": "pies"}, "transform": [{"filter": "datum.pie == 'hn'"}], "mark": {"type": "arc", "outerRadius": 27}, "encoding": {"theta": {"field": "v", "type": "quantitative", "stack": true}, "order": {"field": "o", "type": "quantitative"}, "color": {"field": "cat", "type": "nominal", "scale": {"domain": ["Promoter (±1 kb)","5'-UTR","Exon","Intron","3'-UTR","TTS","Intergenic"], "range": ["#e4202a","#27aae1","#1c3f94","#fff200","#a97c50","#231f20","#39b54a"]}, "legend": null}}},
      {"data": {"values": [{"n": "5,000"}]}, "mark": {"type": "text", "color": "white", "fontWeight": "bold", "fontSize": 11, "dy": -15}, "encoding": {"text": {"field": "n"}}}
     ]},
     {"width": 55, "height": 55, "layer": [
      {"data": {"name": "pies"}, "transform": [{"filter": "datum.pie == 'mn'"}], "mark": {"type": "arc", "outerRadius": 27}, "encoding": {"theta": {"field": "v", "type": "quantitative", "stack": true}, "order": {"field": "o", "type": "quantitative"}, "color": {"field": "cat", "type": "nominal", "scale": {"domain": ["Promoter (±1 kb)","5'-UTR","Exon","Intron","3'-UTR","TTS","Intergenic"], "range": ["#e4202a","#27aae1","#1c3f94","#fff200","#a97c50","#231f20","#39b54a"]}, "legend": null}}},
      {"data": {"values": [{"n": "25,000"}]}, "mark": {"type": "text", "color": "white", "fontWeight": "bold", "fontSize": 11, "dy": -15}, "encoding": {"text": {"field": "n"}}}
     ]}
    ]},
    {"width": 135, "height": 63, "title": {"text": "Gencode 13", "anchor": "start", "fontSize": 11, "offset": 3},
     "data": {"name": "pies"}, "transform": [{"filter": "datum.pie == 'ha'"}],
     "encoding": {"y": {"field": "o", "type": "ordinal", "axis": null}, "x": {"datum": 0, "type": "quantitative", "scale": {"domain": [-0.3, 20]}, "axis": null}},
     "layer": [
      {"mark": {"type": "square", "size": 50, "opacity": 1, "stroke": "#555", "strokeWidth": 0.3}, "encoding": {"color": {"field": "cat", "type": "nominal", "scale": {"domain": ["Promoter (±1 kb)","5'-UTR","Exon","Intron","3'-UTR","TTS","Intergenic"], "range": ["#e4202a","#27aae1","#1c3f94","#fff200","#a97c50","#231f20","#39b54a"]}, "legend": null}}},
      {"mark": {"type": "text", "align": "left", "dx": 6, "fontSize": 8, "baseline": "middle"}, "encoding": {"text": {"field": "cat"}}}
     ]}
   ]
  },
  {"title": {"text": "C", "anchor": "start", "frame": "bounds", "fontSize": 15, "fontWeight": "bold", "offset": 1},
   "width": 112, "height": 137,
   "data": {"values": [
    {"bin":"<10","cat":"bound & DNase I accessible","lo":6.9,"q1":43,"med":78,"q3":130,"hi":533},
    {"bin":"<10","cat":"bound & DNase I non-accessible","lo":4.9,"q1":11.2,"med":17.2,"q3":31.5,"hi":190},
    {"bin":"10-9","cat":"bound & DNase I accessible","lo":4.9,"q1":23,"med":47,"q3":84.5,"hi":381},
    {"bin":"10-9","cat":"bound & DNase I non-accessible","lo":4.0,"q1":9.7,"med":13.5,"q3":21.7,"hi":159},
    {"bin":"9-8","cat":"bound & DNase I accessible","lo":4.0,"q1":16.8,"med":30,"q3":55.6,"hi":381},
    {"bin":"9-8","cat":"bound & DNase I non-accessible","lo":1.35,"q1":8.8,"med":12.1,"q3":17.9,"hi":149},
    {"bin":"8-7","cat":"bound & DNase I accessible","lo":3.4,"q1":13.5,"med":22.5,"q3":38.6,"hi":342},
    {"bin":"8-7","cat":"bound & DNase I non-accessible","lo":2.0,"q1":8.8,"med":11.2,"q3":15.9,"hi":122},
    {"bin":">7","cat":"bound & DNase I accessible","lo":3.4,"q1":11.8,"med":18.5,"q3":31.5,"hi":208},
    {"bin":">7","cat":"bound & DNase I non-accessible","lo":2.7,"q1":8.0,"med":10.6,"q3":15.5,"hi":60}
   ]},
   "encoding": {
    "x": {"field": "bin", "type": "ordinal", "sort": ["<10","10-9","9-8","8-7",">7"], "scale": {"paddingInner": 0, "paddingOuter": 0.33}, "axis": {"title": "Motif log odds score bin", "labelAngle": 0, "titleFontSize": 10.5, "labelFontSize": 7.5, "labelPadding": 3, "offset": 4}},
    "xOffset": {"field": "cat", "type": "nominal", "scale": {"paddingInner": 0.05, "paddingOuter": 0.05}}
   },
   "layer": [
    {"mark": {"type": "rule", "strokeDash": [2, 2], "color": "#333", "strokeWidth": 0.7}, "encoding": {"y": {"field": "lo", "type": "quantitative", "title": "PU.1 ChIPseq TC", "scale": {"type": "log", "domain": [1.2, 600], "nice": false}, "axis": {"values": [2, 5, 20, 100, 500], "titleFontSize": 10.5, "labelFontSize": 7.5, "offset": 3}}, "y2": {"field": "hi"}}},
    {"mark": {"type": "tick", "orient": "horizontal", "color": "#333", "size": 4, "thickness": 0.8}, "encoding": {"y": {"field": "lo", "type": "quantitative", "title": "PU.1 ChIPseq TC"}}},
    {"mark": {"type": "tick", "orient": "horizontal", "color": "#333", "size": 4, "thickness": 0.8}, "encoding": {"y": {"field": "hi", "type": "quantitative", "title": "PU.1 ChIPseq TC"}}},
    {"mark": {"type": "bar", "stroke": "#5c0b10", "strokeWidth": 0.5}, "encoding": {"y": {"field": "q1", "type": "quantitative", "title": "PU.1 ChIPseq TC"}, "y2": {"field": "q3"}, "color": {"field": "cat", "type": "nominal", "scale": {"domain": ["bound & DNase I accessible", "bound & DNase I non-accessible"], "range": ["#a51c24", "#ec7379"]}, "legend": {"orient": "bottom", "direction": "vertical", "title": null, "symbolType": "square", "symbolSize": 64, "symbolStrokeColor": "#5c0b10", "symbolStrokeWidth": 0.5, "labelFontSize": 7.5, "offset": 6, "rowPadding": 2}}}},
    {"mark": {"type": "tick", "orient": "horizontal", "color": "#3a0a0a", "thickness": 1}, "encoding": {"y": {"field": "med", "type": "quantitative", "title": "PU.1 ChIPseq TC"}}}
   ]
  },
  {"title": {"text": "D", "anchor": "start", "frame": "bounds", "fontSize": 15, "fontWeight": "bold", "offset": 1},
   "spacing": 3,
   "resolve": {"scale": {"color": "independent"}},
   "vconcat": [
    {"width": 110, "height": 50, "data": {"name": "Dc"}, "transform": [{"fold": ["hn", "mn", "ha", "ma"], "as": ["s", "y"]}],
     "mark": {"type": "line", "strokeWidth": 1.6},
     "encoding": {"x": {"field": "x", "type": "quantitative", "scale": {"domain": [-15, 15], "nice": false}, "axis": null},
      "y": {"field": "y", "type": "quantitative", "scale": {"domain": [0.05, 0.26], "nice": false}, "axis": {"values": [0.05, 0.1, 0.15, 0.2, 0.25], "format": ".2f", "title": "PhastCons", "titleFontSize": 10.5, "labelAngle": 0, "labelAlign": "right", "labelBaseline": "middle", "minExtent": 18, "maxExtent": 18}},
      "color": {"field": "s", "type": "nominal", "scale": {"domain": ["ma", "ha", "mn", "hn"], "range": ["#a01a22", "#6a3fa0", "#ec7a80", "#f5a8cc"]}, "legend": null}}},
    {"width": 110, "height": 47, "data": {"name": "Dp"}, "transform": [{"fold": ["hn", "mn", "ha", "ma"], "as": ["s", "y"]}],
     "mark": {"type": "line", "strokeWidth": 1.5},
     "encoding": {"x": {"field": "x", "type": "quantitative", "scale": {"domain": [-15, 15], "nice": false}, "axis": {"values": [-15, 15], "title": null, "labelFontSize": 7.5, "offset": 3}},
      "y": {"field": "y", "type": "quantitative", "scale": {"domain": [-0.05, 0.55], "nice": false}, "axis": {"values": [0, 0.2, 0.4], "format": ".1f", "title": "PhyloP", "titleFontSize": 10.5, "labelAngle": 0, "labelAlign": "right", "labelBaseline": "middle", "minExtent": 18, "maxExtent": 18}},
      "color": {"field": "s", "type": "nominal", "scale": {"domain": ["ma", "ha", "mn", "hn"], "range": ["#a01a22", "#6a3fa0", "#ec7a80", "#f5a8cc"]}, "legend": null}}},
    {"width": 128, "height": 18,
     "data": {"values": [{"i":1,"L":"A"},{"i":2,"L":"A"},{"i":3,"L":"G"},{"i":4,"L":"A"},{"i":5,"L":"G"},{"i":6,"L":"G"},{"i":7,"L":"A"},{"i":8,"L":"A"},{"i":9,"L":"G"},{"i":10,"L":"T"},{"i":11,"L":"G"}]},
     "mark": {"type": "text", "fontSize": 10.5, "fontWeight": "bold", "font": "DejaVu Sans Condensed"},
     "encoding": {"x": {"field": "i", "type": "quantitative", "scale": {"domain": [-4.75, 13.06], "nice": false}, "axis": null}, "text": {"field": "L"},
      "color": {"field": "L", "type": "nominal", "scale": {"domain": ["A", "C", "G", "T"], "range": ["#2ca02c", "#1f5fbf", "#f5a300", "#e3262b"]}, "legend": null}}},
    {"width": 128, "height": 22, "view": {"stroke": "#888", "strokeWidth": 0.8},
     "data": {"values": [{"l": "MO acc.", "c": 0, "r": 0}, {"l": "HPC acc.", "c": 1, "r": 0}, {"l": "MO non-acc.", "c": 0, "r": 1}, {"l": "HPC non-acc", "c": 1, "r": 1}]},
     "mark": {"type": "text", "align": "left", "fontSize": 8.5},
     "encoding": {"x": {"field": "c", "type": "quantitative", "scale": {"domain": [-0.07, 2.3], "nice": false}, "axis": null}, "y": {"field": "r", "type": "ordinal", "axis": null}, "text": {"field": "l"},
      "color": {"field": "l", "type": "nominal", "scale": {"domain": ["MO acc.", "HPC acc.", "MO non-acc.", "HPC non-acc"], "range": ["#a01a22", "#6a3fa0", "#ec7a80", "#f08cc0"]}, "legend": null}}}
   ]
  }
 ]},
 {"spacing": 6, "resolve": {"scale": {"color": "independent"}}, "hconcat": [
  {"title": {"text": "E", "anchor": "start", "frame": "bounds", "fontSize": 15, "fontWeight": "bold", "offset": 1, "dy": 15},
   "resolve": {"scale": {"color": "independent"}},
   "vconcat": [
    {"title": {"text": "Distance from peak center (bp)", "orient": "bottom", "anchor": "middle", "fontSize": 10.5, "offset": 3},
     "spacing": 5,
     "resolve": {"scale": {"color": "independent"}},
     "vconcat": [
        {"spacing": 8, "resolve": {"scale": {"color": "independent"}}, "hconcat": [
         {"width": 42, "height": 48, "title": {"text": "DNase I", "fontStyle": "italic", "fontSize": 9}, "data": {"name": "E"}, "transform": [{"filter": "datum.p == 'r1c1'"}, {"fold": ["n", "a"], "as": ["s", "y"]}], "mark": {"type": "line", "strokeWidth": 1.5},
          "encoding": {"x": {"field": "x", "type": "quantitative", "scale": {"domain": [-500, 500], "nice": false}, "axis": {"values": [-500, 0, 500], "title": null}}, "y": {"field": "y", "type": "quantitative", "scale": {"domain": [0, 0.3], "nice": false}, "axis": {"values": [0, 0.1, 0.2, 0.3], "format": ".1f", "title": "\u00a0", "titleFontSize": 10.5}}, "color": {"field": "s", "type": "nominal", "scale": {"domain": ["a", "n"], "range": ["#a51c24", "#ef8087"]}, "legend": null}}},
         {"width": 42, "height": 48, "title": {"text": "PU.1", "fontStyle": "italic", "fontSize": 9}, "data": {"name": "E"}, "transform": [{"filter": "datum.p == 'r1c2'"}, {"fold": ["n", "a"], "as": ["s", "y"]}], "mark": {"type": "line", "strokeWidth": 1.5},
          "encoding": {"x": {"field": "x", "type": "quantitative", "scale": {"domain": [-2000, 2000], "nice": false}, "axis": {"values": [-2000, 0, 2000], "title": null, "labelExpr": "datum.value == 0 ? '0' : (datum.value < 0 ? '-' : '') + (abs(datum.value) / 1000) + 'k'"}}, "y": {"field": "y", "type": "quantitative", "scale": {"domain": [0, 4], "nice": false}, "axis": {"values": [0, 1, 2, 3, 4], "format": "d", "title": null}}, "color": {"field": "s", "type": "nominal", "scale": {"domain": ["a", "n"], "range": ["#a51c24", "#ef8087"]}, "legend": null}}},
         {"width": 42, "height": 48, "title": {"text": "H3K4me1", "fontStyle": "italic", "fontSize": 9}, "data": {"name": "E"}, "transform": [{"filter": "datum.p == 'r1c3'"}, {"fold": ["n", "a"], "as": ["s", "y"]}], "mark": {"type": "line", "strokeWidth": 1.5},
          "encoding": {"x": {"field": "x", "type": "quantitative", "scale": {"domain": [-2000, 2000], "nice": false}, "axis": {"values": [-2000, 0, 2000], "title": null, "labelExpr": "datum.value == 0 ? '0' : (datum.value < 0 ? '-' : '') + (abs(datum.value) / 1000) + 'k'"}}, "y": {"field": "y", "type": "quantitative", "scale": {"domain": [0, 0.46], "nice": false}, "axis": {"values": [0, 0.2, 0.4], "format": ".1f", "title": null}}, "color": {"field": "s", "type": "nominal", "scale": {"domain": ["a", "n"], "range": ["#a51c24", "#ef8087"]}, "legend": null}}},
         {"width": 42, "height": 48, "title": {"text": "H2AZ", "fontStyle": "italic", "fontSize": 9}, "data": {"name": "E"}, "transform": [{"filter": "datum.p == 'r1c4'"}, {"fold": ["n", "a"], "as": ["s", "y"]}], "mark": {"type": "line", "strokeWidth": 1.5},
          "encoding": {"x": {"field": "x", "type": "quantitative", "scale": {"domain": [-2000, 2000], "nice": false}, "axis": {"values": [-2000, 0, 2000], "title": null, "labelExpr": "datum.value == 0 ? '0' : (datum.value < 0 ? '-' : '') + (abs(datum.value) / 1000) + 'k'"}}, "y": {"field": "y", "type": "quantitative", "scale": {"domain": [0, 0.62], "nice": false}, "axis": {"values": [0, 0.2, 0.4, 0.6], "format": ".1f", "title": null}}, "color": {"field": "s", "type": "nominal", "scale": {"domain": ["a", "n"], "range": ["#a51c24", "#ef8087"]}, "legend": null}}}
        ]},
        {"spacing": 8, "resolve": {"scale": {"color": "independent"}}, "hconcat": [
         {"width": 42, "height": 48, "title": {"text": "DNase I", "fontStyle": "italic", "fontSize": 9}, "data": {"name": "E"}, "transform": [{"filter": "datum.p == 'r2c1'"}, {"fold": ["n", "a"], "as": ["s", "y"]}], "mark": {"type": "line", "strokeWidth": 1.5},
          "encoding": {"x": {"field": "x", "type": "quantitative", "scale": {"domain": [-500, 500], "nice": false}, "axis": {"values": [-500, 0, 500], "title": null}}, "y": {"field": "y", "type": "quantitative", "scale": {"domain": [0, 0.23], "nice": false}, "axis": {"values": [0, 0.1, 0.2], "format": ".1f", "title": "Coverage", "titleFontSize": 10.5}}, "color": {"field": "s", "type": "nominal", "scale": {"domain": ["a", "n"], "range": ["#6a3fa0", "#f19ac6"]}, "legend": null}}},
         {"width": 42, "height": 48, "title": {"text": "PU.1", "fontStyle": "italic", "fontSize": 9}, "data": {"name": "E"}, "transform": [{"filter": "datum.p == 'r2c2'"}, {"fold": ["n", "a"], "as": ["s", "y"]}], "mark": {"type": "line", "strokeWidth": 1.5},
          "encoding": {"x": {"field": "x", "type": "quantitative", "scale": {"domain": [-2000, 2000], "nice": false}, "axis": {"values": [-2000, 0, 2000], "title": null, "labelExpr": "datum.value == 0 ? '0' : (datum.value < 0 ? '-' : '') + (abs(datum.value) / 1000) + 'k'"}}, "y": {"field": "y", "type": "quantitative", "scale": {"domain": [0, 5], "nice": false}, "axis": {"values": [0, 1, 2, 3, 4, 5], "format": "d", "title": null}}, "color": {"field": "s", "type": "nominal", "scale": {"domain": ["a", "n"], "range": ["#6a3fa0", "#f19ac6"]}, "legend": null}}},
         {"width": 42, "height": 48, "title": {"text": "H3K4me1", "fontStyle": "italic", "fontSize": 9}, "data": {"name": "E"}, "transform": [{"filter": "datum.p == 'r2c3'"}, {"fold": ["n", "a"], "as": ["s", "y"]}], "mark": {"type": "line", "strokeWidth": 1.5},
          "encoding": {"x": {"field": "x", "type": "quantitative", "scale": {"domain": [-2000, 2000], "nice": false}, "axis": {"values": [-2000, 0, 2000], "title": null, "labelExpr": "datum.value == 0 ? '0' : (datum.value < 0 ? '-' : '') + (abs(datum.value) / 1000) + 'k'"}}, "y": {"field": "y", "type": "quantitative", "scale": {"domain": [0, 0.4], "nice": false}, "axis": {"values": [0, 0.2, 0.4], "format": ".1f", "title": null}}, "color": {"field": "s", "type": "nominal", "scale": {"domain": ["a", "n"], "range": ["#6a3fa0", "#f19ac6"]}, "legend": null}}},
         {"width": 42, "height": 48, "title": {"text": "H2AZ", "fontStyle": "italic", "fontSize": 9}, "data": {"name": "E"}, "transform": [{"filter": "datum.p == 'r2c4'"}, {"fold": ["n", "a"], "as": ["s", "y"]}], "mark": {"type": "line", "strokeWidth": 1.5},
          "encoding": {"x": {"field": "x", "type": "quantitative", "scale": {"domain": [-2000, 2000], "nice": false}, "axis": {"values": [-2000, 0, 2000], "title": null, "labelExpr": "datum.value == 0 ? '0' : (datum.value < 0 ? '-' : '') + (abs(datum.value) / 1000) + 'k'"}}, "y": {"field": "y", "type": "quantitative", "scale": {"domain": [0, 0.82], "nice": false}, "axis": {"values": [0, 0.4, 0.8], "format": ".1f", "title": null}}, "color": {"field": "s", "type": "nominal", "scale": {"domain": ["a", "n"], "range": ["#6a3fa0", "#f19ac6"]}, "legend": null}}}
        ]},
        {"spacing": 8, "resolve": {"scale": {"color": "independent"}}, "hconcat": [
         {"width": 42, "height": 48, "title": {"text": "H3K27ac", "fontStyle": "italic", "fontSize": 9}, "data": {"name": "E"}, "transform": [{"filter": "datum.p == 'r3c1'"}, {"fold": ["n", "a"], "as": ["s", "y"]}], "mark": {"type": "line", "strokeWidth": 1.5},
          "encoding": {"x": {"field": "x", "type": "quantitative", "scale": {"domain": [-2000, 2000], "nice": false}, "axis": {"values": [-2000, 0, 2000], "title": null, "labelExpr": "datum.value == 0 ? '0' : (datum.value < 0 ? '-' : '') + (abs(datum.value) / 1000) + 'k'"}}, "y": {"field": "y", "type": "quantitative", "scale": {"domain": [0, 0.72], "nice": false}, "axis": {"values": [0, 0.2, 0.4, 0.6], "format": ".1f", "title": "\u00a0", "titleFontSize": 10.5}}, "color": {"field": "s", "type": "nominal", "scale": {"domain": ["a", "n"], "range": ["#a51c24", "#ef8087"]}, "legend": null}}},
         {"width": 42, "height": 48, "title": {"text": "H3K27me3", "fontStyle": "italic", "fontSize": 9}, "data": {"name": "E"}, "transform": [{"filter": "datum.p == 'r3c2'"}, {"fold": ["n", "a"], "as": ["s", "y"]}], "mark": {"type": "line", "strokeWidth": 1.5},
          "encoding": {"x": {"field": "x", "type": "quantitative", "scale": {"domain": [-2000, 2000], "nice": false}, "axis": {"values": [-2000, 0, 2000], "title": null, "labelExpr": "datum.value == 0 ? '0' : (datum.value < 0 ? '-' : '') + (abs(datum.value) / 1000) + 'k'"}}, "y": {"field": "y", "type": "quantitative", "scale": {"domain": [0.075, 0.142], "nice": false, "zero": false}, "axis": {"values": [0.08, 0.1, 0.12, 0.14], "format": ".2f", "title": null}}, "color": {"field": "s", "type": "nominal", "scale": {"domain": ["a", "n"], "range": ["#a51c24", "#ef8087"]}, "legend": null}}},
         {"width": 42, "height": 48, "title": {"text": "RUNX1", "fontStyle": "italic", "fontSize": 9}, "data": {"name": "E"}, "transform": [{"filter": "datum.p == 'r3c3'"}, {"fold": ["n", "a"], "as": ["s", "y"]}], "mark": {"type": "line", "strokeWidth": 1.5},
          "encoding": {"x": {"field": "x", "type": "quantitative", "scale": {"domain": [-2000, 2000], "nice": false}, "axis": {"values": [-2000, 0, 2000], "title": null, "labelExpr": "datum.value == 0 ? '0' : (datum.value < 0 ? '-' : '') + (abs(datum.value) / 1000) + 'k'"}}, "y": {"field": "y", "type": "quantitative", "scale": {"domain": [0, 1.5], "nice": false}, "axis": {"values": [0, 0.5, 1, 1.5], "format": ".1f", "title": null}}, "color": {"field": "s", "type": "nominal", "scale": {"domain": ["a", "n"], "range": ["#6a3fa0", "#f19ac6"]}, "legend": null}}},
         {"width": 42, "height": 48, "title": {"text": "mCpG", "fontStyle": "italic", "fontSize": 9}, "data": {"name": "E"}, "transform": [{"filter": "datum.p == 'r3c4'"}, {"fold": ["n", "a"], "as": ["s", "y"]}], "mark": {"type": "line", "strokeWidth": 1.5},
          "encoding": {"x": {"field": "x", "type": "quantitative", "scale": {"domain": [-2000, 2000], "nice": false}, "axis": {"values": [-2000, 0, 2000], "title": null, "labelExpr": "datum.value == 0 ? '0' : (datum.value < 0 ? '-' : '') + (abs(datum.value) / 1000) + 'k'"}}, "y": {"field": "y", "type": "quantitative", "scale": {"domain": [0.055, 0.142], "nice": false, "zero": false}, "axis": {"values": [0.06, 0.1, 0.14], "format": ".2f", "title": null}}, "color": {"field": "s", "type": "nominal", "scale": {"domain": ["a", "n"], "range": ["#a51c24", "#ef8087"]}, "legend": null}}}
        ]}
     ]}
   ]},
  {"title": {"text": "F", "anchor": "start", "frame": "bounds", "fontSize": 15, "fontWeight": "bold", "offset": 1, "dy": 15},
   "spacing": 6,
   "resolve": {"scale": {"color": "independent"}},
   "hconcat": [
    {"width": 44, "height": 102, "title": {"text": "HPC", "fontSize": 13},
     "layer": [
      {"data": {"name": "Fv"}, "transform": [{"filter": "datum.c == 'HPCa' || datum.c == 'HPCn'"}], "mark": {"type": "area", "orient": "horizontal", "color": "#c4c4c4"},
       "encoding": {"y": {"field": "v", "type": "quantitative", "title": "Motif log odds score", "scale": {"domain": [0, 12], "nice": false}, "axis": {"values": [0, 2, 4, 6, 8, 10, 12], "titleFontSize": 10.5, "offset": 3}},
        "x": {"field": "lo", "type": "quantitative", "title": null, "scale": {"domain": [0.35, 2.6], "nice": false}, "axis": {"values": [1, 2], "labelExpr": "datum.value == 1 ? 'acc.' : 'non-acc.'", "labelAngle": -90, "labelAlign": "right", "labelBaseline": "middle", "labelFontSize": 8.5, "domain": false, "labelPadding": 3, "offset": 3}},
        "x2": {"field": "hi"}, "detail": {"field": "c"}}},
      {"data": {"values": [{"y": 6.6}]}, "mark": {"type": "rule", "strokeDash": [1.5, 2], "color": "#999", "strokeWidth": 0.8}, "encoding": {"y": {"field": "y", "type": "quantitative", "title": "Motif log odds score"}}},
      {"data": {"name": "Fs"}, "transform": [{"filter": "datum.c == 'HPCa' || datum.c == 'HPCn'"}],
       "layer": [
        {"mark": {"type": "rule", "strokeDash": [2, 1.5], "color": "#333", "strokeWidth": 0.6}, "encoding": {"x": {"field": "p", "type": "quantitative", "title": null}, "y": {"field": "lo", "type": "quantitative", "title": "Motif log odds score"}, "y2": {"field": "hi"}}},
        {"mark": {"type": "tick", "orient": "horizontal", "size": 5, "thickness": 0.7, "color": "#333"}, "encoding": {"x": {"field": "p", "type": "quantitative", "title": null}, "y": {"field": "lo", "type": "quantitative", "title": "Motif log odds score"}}},
        {"mark": {"type": "tick", "orient": "horizontal", "size": 5, "thickness": 0.7, "color": "#333"}, "encoding": {"x": {"field": "p", "type": "quantitative", "title": null}, "y": {"field": "hi", "type": "quantitative", "title": "Motif log odds score"}}},
        {"mark": {"type": "bar", "width": 9, "stroke": "#222", "strokeWidth": 0.6}, "encoding": {"x": {"field": "p", "type": "quantitative", "title": null}, "y": {"field": "q1", "type": "quantitative", "title": "Motif log odds score"}, "y2": {"field": "q3"}, "color": {"field": "c", "type": "nominal", "scale": {"domain": ["HPCa", "HPCn", "MOa", "MOn"], "range": ["#6b48a6", "#f5a3cc", "#b3181f", "#f08a8f"]}, "legend": null}}},
        {"mark": {"type": "tick", "orient": "horizontal", "size": 9, "thickness": 1.2, "color": "#111"}, "encoding": {"x": {"field": "p", "type": "quantitative", "title": null}, "y": {"field": "med", "type": "quantitative", "title": "Motif log odds score"}}}
       ]},
      {"data": {"values": [{"x1": 1, "x2": 2, "xm": 1.5, "y": 11.6, "t": "***"}]},
       "layer": [
        {"mark": {"type": "rule", "color": "#222", "strokeWidth": 1}, "encoding": {"x": {"field": "x1", "type": "quantitative", "title": null}, "x2": {"field": "x2"}, "y": {"field": "y", "type": "quantitative", "title": "Motif log odds score"}}},
        {"mark": {"type": "text", "fontSize": 9, "baseline": "bottom", "dy": -1}, "encoding": {"x": {"field": "xm", "type": "quantitative", "title": null}, "y": {"field": "y", "type": "quantitative", "title": "Motif log odds score"}, "text": {"field": "t"}}}
       ]}
     ]},
    {"width": 44, "height": 102, "title": {"text": "MO", "fontSize": 13},
     "layer": [
      {"data": {"name": "Fv"}, "transform": [{"filter": "datum.c == 'MOa' || datum.c == 'MOn'"}], "mark": {"type": "area", "orient": "horizontal", "color": "#c4c4c4"},
       "encoding": {"y": {"field": "v", "type": "quantitative", "title": null, "scale": {"domain": [0, 12], "nice": false}, "axis": {"values": [0, 2, 4, 6, 8, 10, 12], "offset": 3}},
        "x": {"field": "lo", "type": "quantitative", "title": null, "scale": {"domain": [0.35, 2.6], "nice": false}, "axis": {"values": [1, 2], "labelExpr": "datum.value == 1 ? 'acc.' : 'non-acc.'", "labelAngle": -90, "labelAlign": "right", "labelBaseline": "middle", "labelFontSize": 8.5, "domain": false, "labelPadding": 3, "offset": 3}},
        "x2": {"field": "hi"}, "detail": {"field": "c"}}},
      {"data": {"values": [{"y": 6.6}]}, "mark": {"type": "rule", "strokeDash": [1.5, 2], "color": "#999", "strokeWidth": 0.8}, "encoding": {"y": {"field": "y", "type": "quantitative", "title": null}}},
      {"data": {"name": "Fs"}, "transform": [{"filter": "datum.c == 'MOa' || datum.c == 'MOn'"}],
       "layer": [
        {"mark": {"type": "rule", "strokeDash": [2, 1.5], "color": "#333", "strokeWidth": 0.6}, "encoding": {"x": {"field": "p", "type": "quantitative", "title": null}, "y": {"field": "lo", "type": "quantitative", "title": null}, "y2": {"field": "hi"}}},
        {"mark": {"type": "tick", "orient": "horizontal", "size": 5, "thickness": 0.7, "color": "#333"}, "encoding": {"x": {"field": "p", "type": "quantitative", "title": null}, "y": {"field": "lo", "type": "quantitative", "title": null}}},
        {"mark": {"type": "tick", "orient": "horizontal", "size": 5, "thickness": 0.7, "color": "#333"}, "encoding": {"x": {"field": "p", "type": "quantitative", "title": null}, "y": {"field": "hi", "type": "quantitative", "title": null}}},
        {"mark": {"type": "bar", "width": 9, "stroke": "#222", "strokeWidth": 0.6}, "encoding": {"x": {"field": "p", "type": "quantitative", "title": null}, "y": {"field": "q1", "type": "quantitative", "title": null}, "y2": {"field": "q3"}, "color": {"field": "c", "type": "nominal", "scale": {"domain": ["HPCa", "HPCn", "MOa", "MOn"], "range": ["#6b48a6", "#f5a3cc", "#b3181f", "#f08a8f"]}, "legend": null}}},
        {"mark": {"type": "tick", "orient": "horizontal", "size": 9, "thickness": 1.2, "color": "#111"}, "encoding": {"x": {"field": "p", "type": "quantitative", "title": null}, "y": {"field": "med", "type": "quantitative", "title": null}}}
       ]},
      {"data": {"values": [{"x1": 1, "x2": 2, "xm": 1.5, "y": 11.6, "t": "***"}]},
       "layer": [
        {"mark": {"type": "rule", "color": "#222", "strokeWidth": 1}, "encoding": {"x": {"field": "x1", "type": "quantitative", "title": null}, "x2": {"field": "x2"}, "y": {"field": "y", "type": "quantitative", "title": null}}},
        {"mark": {"type": "text", "fontSize": 9, "baseline": "bottom", "dy": -1}, "encoding": {"x": {"field": "xm", "type": "quantitative", "title": null}, "y": {"field": "y", "type": "quantitative", "title": null}, "text": {"field": "t"}}}
       ]}
     ]}
   ]},
  {"title": {"text": "G", "anchor": "start", "frame": "bounds", "fontSize": 15, "fontWeight": "bold", "offset": 1, "dy": 15},
   "resolve": {"scale": {"color": "independent"}},
   "vconcat": [
    {"title": {"text": "Distance from motif 5'end (in bp)", "orient": "bottom", "anchor": "middle", "fontSize": 10.5, "offset": 3},
     "resolve": {"scale": {"color": "independent"}},
     "vconcat": [
      {"title": {"text": "Motifs/kb", "orient": "left", "anchor": "middle", "fontSize": 10.5, "offset": 2},
       "spacing": 10,
       "resolve": {"scale": {"color": "independent"}},
       "vconcat": [
        {"spacing": 8, "resolve": {"scale": {"color": "independent"}}, "hconcat": [
         {"width": 44, "height": 55, "title": {"text": "PU.1", "fontStyle": "italic", "fontSize": 9}, "data": {"name": "G"}, "transform": [{"filter": "datum.p == 'pu'"}, {"fold": ["g", "n", "a"], "as": ["s", "y"]}], "mark": {"type": "line", "strokeWidth": 1.3},
          "encoding": {"x": {"field": "x", "type": "quantitative", "scale": {"domain": [-250, 250], "nice": false}, "axis": {"values": [-250, 0, 250], "title": null}}, "y": {"field": "y", "type": "quantitative", "scale": {"domain": [0, 3], "nice": false}, "axis": {"values": [0, 1, 2, 3], "format": "d", "title": null}}, "color": {"field": "s", "type": "nominal", "scale": {"domain": ["a", "n", "g"], "range": ["#8e1418", "#f28b8b", "#9a9a9a"]}, "legend": null}}},
         {"width": 44, "height": 55, "title": {"text": "CTCF", "fontStyle": "italic", "fontSize": 9}, "data": {"name": "G"}, "transform": [{"filter": "datum.p == 'ct'"}, {"fold": ["g", "n", "a"], "as": ["s", "y"]}], "mark": {"type": "line", "strokeWidth": 1.3},
          "encoding": {"x": {"field": "x", "type": "quantitative", "scale": {"domain": [-250, 250], "nice": false}, "axis": {"values": [-250, 0, 250], "title": null}}, "y": {"field": "y", "type": "quantitative", "scale": {"domain": [0, 0.3], "nice": false}, "axis": {"values": [0, 0.15, 0.3], "format": ".2f", "title": null}}, "color": {"field": "s", "type": "nominal", "scale": {"domain": ["a", "n", "g"], "range": ["#8e1418", "#f28b8b", "#9a9a9a"]}, "legend": null}}},
         {"width": 44, "height": 55, "title": {"text": "SP1", "fontStyle": "italic", "fontSize": 9}, "data": {"name": "G"}, "transform": [{"filter": "datum.p == 'sp'"}, {"fold": ["g", "n", "a"], "as": ["s", "y"]}], "mark": {"type": "line", "strokeWidth": 1.3},
          "encoding": {"x": {"field": "x", "type": "quantitative", "scale": {"domain": [-250, 250], "nice": false}, "axis": {"values": [-250, 0, 250], "title": null}}, "y": {"field": "y", "type": "quantitative", "scale": {"domain": [0, 0.3], "nice": false}, "axis": {"values": [0, 0.15, 0.3], "format": ".2f", "title": null}}, "color": {"field": "s", "type": "nominal", "scale": {"domain": ["a", "n", "g"], "range": ["#8e1418", "#f28b8b", "#9a9a9a"]}, "legend": null}}},
         {"width": 44, "height": 55, "title": {"text": "NRF1", "fontStyle": "italic", "fontSize": 9}, "data": {"name": "G"}, "transform": [{"filter": "datum.p == 'nr'"}, {"fold": ["g", "n", "a"], "as": ["s", "y"]}], "mark": {"type": "line", "strokeWidth": 1.3},
          "encoding": {"x": {"field": "x", "type": "quantitative", "scale": {"domain": [-250, 250], "nice": false}, "axis": {"values": [-250, 0, 250], "title": null}}, "y": {"field": "y", "type": "quantitative", "scale": {"domain": [0, 0.3], "nice": false}, "axis": {"values": [0, 0.15, 0.3], "format": ".2f", "title": null}}, "color": {"field": "s", "type": "nominal", "scale": {"domain": ["a", "n", "g"], "range": ["#8e1418", "#f28b8b", "#9a9a9a"]}, "legend": null}}}
        ]},
        {"spacing": 8, "resolve": {"scale": {"color": "independent"}}, "hconcat": [
         {"width": 44, "height": 55, "title": {"text": "CEBP", "fontStyle": "italic", "fontSize": 9}, "data": {"name": "G"}, "transform": [{"filter": "datum.p == 'ce'"}, {"fold": ["g", "n", "a"], "as": ["s", "y"]}], "mark": {"type": "line", "strokeWidth": 1.3},
          "encoding": {"x": {"field": "x", "type": "quantitative", "scale": {"domain": [-250, 250], "nice": false}, "axis": {"values": [-250, 0, 250], "title": null}}, "y": {"field": "y", "type": "quantitative", "scale": {"domain": [0, 1.5], "nice": false}, "axis": {"values": [0, 0.5, 1, 1.5], "format": ".1f", "title": null}}, "color": {"field": "s", "type": "nominal", "scale": {"domain": ["a", "n", "g"], "range": ["#8e1418", "#f28b8b", "#9a9a9a"]}, "legend": null}}},
         {"width": 44, "height": 55, "title": {"text": "JUN", "fontStyle": "italic", "fontSize": 9}, "data": {"name": "G"}, "transform": [{"filter": "datum.p == 'ju'"}, {"fold": ["g", "n", "a"], "as": ["s", "y"]}], "mark": {"type": "line", "strokeWidth": 1.3},
          "encoding": {"x": {"field": "x", "type": "quantitative", "scale": {"domain": [-250, 250], "nice": false}, "axis": {"values": [-250, 0, 250], "title": null}}, "y": {"field": "y", "type": "quantitative", "scale": {"domain": [0, 1.2], "nice": false}, "axis": {"values": [0, 0.4, 0.8, 1.2], "format": ".1f", "title": null}}, "color": {"field": "s", "type": "nominal", "scale": {"domain": ["a", "n", "g"], "range": ["#8e1418", "#f28b8b", "#9a9a9a"]}, "legend": null}}},
         {"width": 44, "height": 55, "title": {"text": "RUNX1", "fontStyle": "italic", "fontSize": 9}, "data": {"name": "G"}, "transform": [{"filter": "datum.p == 'rm'"}, {"fold": ["g", "n", "a"], "as": ["s", "y"]}], "mark": {"type": "line", "strokeWidth": 1.3},
          "encoding": {"x": {"field": "x", "type": "quantitative", "scale": {"domain": [-250, 250], "nice": false}, "axis": {"values": [-250, 0, 250], "title": null}}, "y": {"field": "y", "type": "quantitative", "scale": {"domain": [0, 1.2], "nice": false}, "axis": {"values": [0, 0.4, 0.8, 1.2], "format": ".1f", "title": null}}, "color": {"field": "s", "type": "nominal", "scale": {"domain": ["a", "n", "g"], "range": ["#8e1418", "#f28b8b", "#9a9a9a"]}, "legend": null}}},
         {"width": 44, "height": 55, "title": {"text": "RUNX1", "fontStyle": "italic", "fontSize": 9}, "data": {"name": "G"}, "transform": [{"filter": "datum.p == 'rh'"}, {"fold": ["g", "n", "a"], "as": ["s", "y"]}], "mark": {"type": "line", "strokeWidth": 1.3},
          "encoding": {"x": {"field": "x", "type": "quantitative", "scale": {"domain": [-250, 250], "nice": false}, "axis": {"values": [-250, 0, 250], "title": null}}, "y": {"field": "y", "type": "quantitative", "scale": {"domain": [0, 2], "nice": false}, "axis": {"values": [0, 1, 2], "format": "d", "title": null}}, "color": {"field": "s", "type": "nominal", "scale": {"domain": ["a", "n", "g"], "range": ["#6a3fa0", "#f19ac6", "#9a9a9a"]}, "legend": null}}}
        ]}
       ]}
     ]}
   ]}
 ]}
]
}
